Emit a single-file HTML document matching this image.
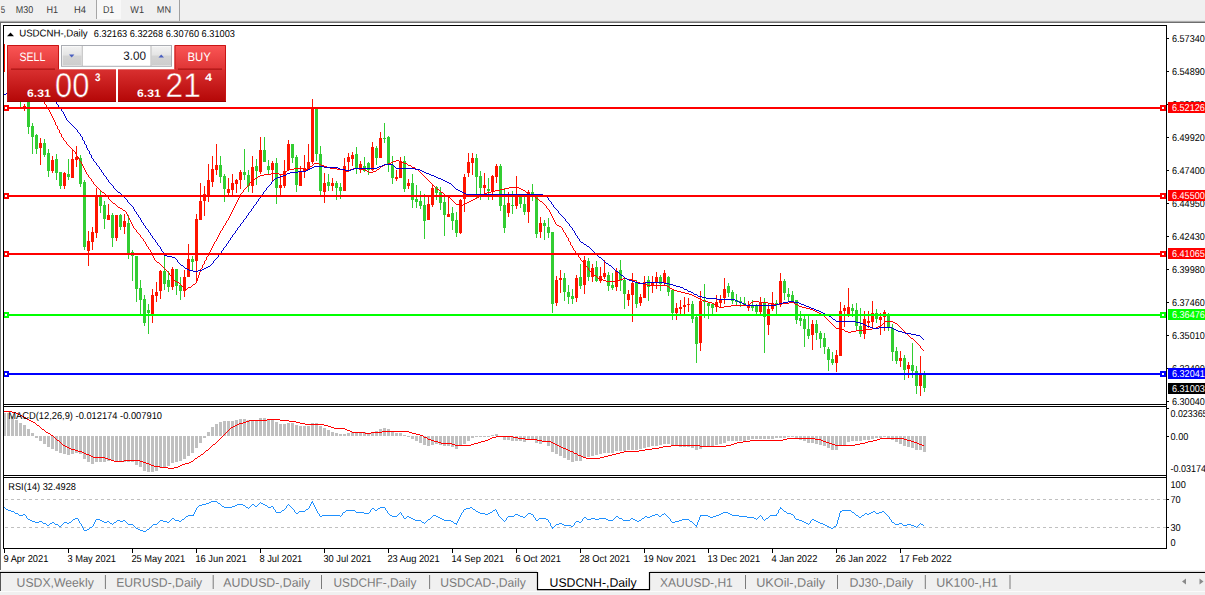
<!DOCTYPE html><html><head><meta charset="utf-8"><title>USDCNH-,Daily</title>
<style>html,body{margin:0;padding:0;background:#fff;}body{width:1205px;height:595px;overflow:hidden;}svg{display:block;font-family:"Liberation Sans", sans-serif;}</style></head><body>
<svg width="1205" height="595" viewBox="0 0 1205 595">
<defs>
<linearGradient id="gTop" x1="0" y1="0" x2="0" y2="1"><stop offset="0" stop-color="#fb5656"/><stop offset="1" stop-color="#de3434"/></linearGradient>
<linearGradient id="gBot" gradientUnits="userSpaceOnUse" x1="0" y1="69.3" x2="0" y2="101.8"><stop offset="0" stop-color="#d93030"/><stop offset="1" stop-color="#b40606"/></linearGradient>
<linearGradient id="gBtn" x1="0" y1="0" x2="0" y2="1"><stop offset="0" stop-color="#f2f2f2"/><stop offset="0.45" stop-color="#e4e4e4"/><stop offset="0.5" stop-color="#d4d4d4"/><stop offset="1" stop-color="#cdcdcd"/></linearGradient>
<clipPath id="cpMain"><rect x="4" y="26" width="1162" height="378"/></clipPath>
</defs>
<rect x="0" y="0" width="1205" height="595" fill="#fff"/>
<rect x="0" y="0" width="1205" height="21" fill="#f0f0f0"/>
<rect x="0" y="20" width="1205" height="1" fill="#e6e6e6"/>
<rect x="0" y="21" width="1205" height="1" fill="#adadad"/>
<rect x="0" y="22" width="1205" height="1" fill="#6e6e6e"/>
<rect x="97" y="0" width="24" height="19" fill="#f8f8f8"/>
<rect x="96" y="0" width="1" height="19" fill="#a6a6a6"/>
<rect x="179" y="0" width="1" height="21" fill="#a0a0a0"/>
<text x="0.8" y="12.9" transform="rotate(0.03 0.8 12.9)" font-size="10" fill="#3c3c3c" textLength="4.4" lengthAdjust="spacingAndGlyphs">5</text>
<text x="15.8" y="12.9" transform="rotate(0.03 15.8 12.9)" font-size="10" fill="#3c3c3c" textLength="17.4" lengthAdjust="spacingAndGlyphs">M30</text>
<text x="46.5" y="12.9" transform="rotate(0.03 46.5 12.9)" font-size="10" fill="#3c3c3c" textLength="11.6" lengthAdjust="spacingAndGlyphs">H1</text>
<text x="73.9" y="12.9" transform="rotate(0.03 73.9 12.9)" font-size="10" fill="#3c3c3c" textLength="12" lengthAdjust="spacingAndGlyphs">H4</text>
<text x="102.9" y="12.9" transform="rotate(0.03 102.9 12.9)" font-size="10" fill="#3c3c3c" textLength="11.4" lengthAdjust="spacingAndGlyphs">D1</text>
<text x="130.3" y="12.9" transform="rotate(0.03 130.3 12.9)" font-size="10" fill="#3c3c3c" textLength="13.7" lengthAdjust="spacingAndGlyphs">W1</text>
<text x="156.8" y="12.7" transform="rotate(0.03 156.8 12.7)" font-size="9.5" fill="#3c3c3c" textLength="14.2" lengthAdjust="spacingAndGlyphs">MN</text>
<rect x="0" y="23" width="1" height="547" fill="#6e6e6e"/>
<g shape-rendering="crispEdges">
<g clip-path="url(#cpMain)">
<rect x="20" y="96" width="1" height="13" fill="#32cd32"/>
<rect x="19" y="97" width="3" height="4" fill="#32cd32"/>
<rect x="24" y="104" width="1" height="7" fill="#ff1400"/>
<rect x="23" y="106" width="3" height="1.5" fill="#ff1400"/>
<rect x="28" y="100" width="1" height="33.7" fill="#32cd32"/>
<rect x="27" y="100" width="3" height="26.6" fill="#32cd32"/>
<rect x="32" y="123.2" width="1" height="30.6" fill="#32cd32"/>
<rect x="31" y="126" width="3" height="10.7" fill="#32cd32"/>
<rect x="36" y="134" width="1" height="20" fill="#32cd32"/>
<rect x="35" y="134.8" width="3" height="14.2" fill="#32cd32"/>
<rect x="40" y="137.9" width="1" height="26.8" fill="#ff1400"/>
<rect x="39" y="143.2" width="3" height="5.2" fill="#ff1400"/>
<rect x="44" y="139" width="1" height="17.8" fill="#32cd32"/>
<rect x="43" y="143.2" width="3" height="11.5" fill="#32cd32"/>
<rect x="48" y="149.1" width="1" height="27.7" fill="#32cd32"/>
<rect x="47" y="153" width="3" height="18" fill="#32cd32"/>
<rect x="52" y="156.3" width="1" height="16.3" fill="#ff1400"/>
<rect x="51" y="160.2" width="3" height="10.4" fill="#ff1400"/>
<rect x="56" y="154.2" width="1" height="25.3" fill="#32cd32"/>
<rect x="55" y="158.9" width="3" height="13.7" fill="#32cd32"/>
<rect x="60" y="172.3" width="1" height="16.5" fill="#32cd32"/>
<rect x="59" y="172.3" width="3" height="13.5" fill="#32cd32"/>
<rect x="64" y="172" width="1" height="16.8" fill="#ff1400"/>
<rect x="63" y="172.6" width="3" height="13.2" fill="#ff1400"/>
<rect x="68" y="158.9" width="1" height="21" fill="#32cd32"/>
<rect x="67" y="173.7" width="3" height="3.3" fill="#32cd32"/>
<rect x="72" y="149.1" width="1" height="28.6" fill="#ff1400"/>
<rect x="71" y="158.9" width="3" height="18.8" fill="#ff1400"/>
<rect x="76" y="146.3" width="1" height="20.7" fill="#ff1400"/>
<rect x="75" y="157.2" width="3" height="2.5" fill="#ff1400"/>
<rect x="80" y="155" width="1" height="32" fill="#32cd32"/>
<rect x="79" y="158" width="3" height="26" fill="#32cd32"/>
<rect x="84" y="179.9" width="1" height="69.8" fill="#32cd32"/>
<rect x="83" y="182.4" width="3" height="64.4" fill="#32cd32"/>
<rect x="88" y="231.2" width="1" height="34.5" fill="#ff1400"/>
<rect x="87" y="241.3" width="3" height="9.2" fill="#ff1400"/>
<rect x="92" y="227" width="1" height="22.7" fill="#ff1400"/>
<rect x="91" y="232.4" width="3" height="9.7" fill="#ff1400"/>
<rect x="96" y="188" width="1" height="50" fill="#ff1400"/>
<rect x="95" y="196.4" width="3" height="36.5" fill="#ff1400"/>
<rect x="100" y="190.9" width="1" height="21.8" fill="#32cd32"/>
<rect x="99" y="195.4" width="3" height="10.1" fill="#32cd32"/>
<rect x="104" y="201.3" width="1" height="27.4" fill="#32cd32"/>
<rect x="103" y="204.8" width="3" height="13.8" fill="#32cd32"/>
<rect x="108" y="204.3" width="1" height="16" fill="#ff1400"/>
<rect x="107" y="215.3" width="3" height="4.2" fill="#ff1400"/>
<rect x="112" y="213.2" width="1" height="33.6" fill="#32cd32"/>
<rect x="111" y="214.9" width="3" height="23" fill="#32cd32"/>
<rect x="116" y="215.3" width="1" height="25.7" fill="#ff1400"/>
<rect x="115" y="215.3" width="3" height="22.6" fill="#ff1400"/>
<rect x="120" y="213.9" width="1" height="16.1" fill="#32cd32"/>
<rect x="119" y="214.9" width="3" height="12.1" fill="#32cd32"/>
<rect x="124" y="213.9" width="1" height="19.8" fill="#ff1400"/>
<rect x="123" y="221.1" width="3" height="5.9" fill="#ff1400"/>
<rect x="128" y="214.9" width="1" height="44.1" fill="#32cd32"/>
<rect x="127" y="222.8" width="3" height="30.2" fill="#32cd32"/>
<rect x="132" y="249.7" width="1" height="31.3" fill="#32cd32"/>
<rect x="131" y="252.2" width="3" height="4.2" fill="#32cd32"/>
<rect x="136" y="255.9" width="1" height="46.1" fill="#32cd32"/>
<rect x="135" y="255.9" width="3" height="32.8" fill="#32cd32"/>
<rect x="140" y="280.3" width="1" height="33.6" fill="#32cd32"/>
<rect x="139" y="288.3" width="3" height="11.7" fill="#32cd32"/>
<rect x="144" y="295" width="1" height="31" fill="#32cd32"/>
<rect x="143" y="299" width="3" height="23.6" fill="#32cd32"/>
<rect x="148" y="304" width="1" height="29.7" fill="#32cd32"/>
<rect x="147" y="310" width="3" height="3" fill="#32cd32"/>
<rect x="152" y="289" width="1" height="34" fill="#ff1400"/>
<rect x="151" y="295" width="3" height="18.9" fill="#ff1400"/>
<rect x="156" y="282" width="1" height="19.8" fill="#ff1400"/>
<rect x="155" y="292" width="3" height="3.7" fill="#ff1400"/>
<rect x="160" y="270" width="1" height="28.7" fill="#ff1400"/>
<rect x="159" y="271" width="3" height="20" fill="#ff1400"/>
<rect x="164" y="256.4" width="1" height="33.6" fill="#32cd32"/>
<rect x="163" y="271" width="3" height="12.6" fill="#32cd32"/>
<rect x="168" y="271" width="1" height="21" fill="#32cd32"/>
<rect x="167" y="280.3" width="3" height="6.7" fill="#32cd32"/>
<rect x="172" y="266.8" width="1" height="23.2" fill="#ff1400"/>
<rect x="171" y="268.8" width="3" height="18.2" fill="#ff1400"/>
<rect x="176" y="268.8" width="1" height="26.2" fill="#32cd32"/>
<rect x="175" y="268.8" width="3" height="16.8" fill="#32cd32"/>
<rect x="180" y="276.9" width="1" height="23.1" fill="#32cd32"/>
<rect x="179" y="285.3" width="3" height="5.9" fill="#32cd32"/>
<rect x="184" y="270" width="1" height="27" fill="#ff1400"/>
<rect x="183" y="277.2" width="3" height="14" fill="#ff1400"/>
<rect x="188" y="243.8" width="1" height="32.8" fill="#ff1400"/>
<rect x="187" y="259.2" width="3" height="17.4" fill="#ff1400"/>
<rect x="192" y="256.4" width="1" height="13.4" fill="#32cd32"/>
<rect x="191" y="258.7" width="3" height="3.3" fill="#32cd32"/>
<rect x="196" y="214" width="1" height="69" fill="#ff1400"/>
<rect x="195" y="218.6" width="3" height="42.8" fill="#ff1400"/>
<rect x="200" y="183" width="1" height="37" fill="#ff1400"/>
<rect x="199" y="200.6" width="3" height="19.4" fill="#ff1400"/>
<rect x="204" y="186.3" width="1" height="29.4" fill="#ff1400"/>
<rect x="203" y="193.9" width="3" height="7.5" fill="#ff1400"/>
<rect x="208" y="163.6" width="1" height="38.4" fill="#ff1400"/>
<rect x="207" y="180" width="3" height="17.2" fill="#ff1400"/>
<rect x="212" y="156" width="1" height="30.8" fill="#ff1400"/>
<rect x="211" y="169" width="3" height="13" fill="#ff1400"/>
<rect x="216" y="144.3" width="1" height="30.7" fill="#ff1400"/>
<rect x="215" y="165.3" width="3" height="4.2" fill="#ff1400"/>
<rect x="220" y="156" width="1" height="27" fill="#32cd32"/>
<rect x="219" y="165.3" width="3" height="11.7" fill="#32cd32"/>
<rect x="224" y="174" width="1" height="28" fill="#32cd32"/>
<rect x="223" y="175.7" width="3" height="13.1" fill="#32cd32"/>
<rect x="228" y="177.9" width="1" height="16.8" fill="#ff1400"/>
<rect x="227" y="188.8" width="3" height="3.7" fill="#ff1400"/>
<rect x="232" y="174" width="1" height="21.2" fill="#ff1400"/>
<rect x="231" y="183" width="3" height="6.7" fill="#ff1400"/>
<rect x="236" y="179" width="1" height="13.5" fill="#ff1400"/>
<rect x="235" y="180" width="3" height="3.8" fill="#ff1400"/>
<rect x="240" y="170" width="1" height="18.8" fill="#ff1400"/>
<rect x="239" y="172" width="3" height="8" fill="#ff1400"/>
<rect x="244" y="148.8" width="1" height="31.2" fill="#32cd32"/>
<rect x="243" y="172.4" width="3" height="2.6" fill="#32cd32"/>
<rect x="248" y="170" width="1" height="21.8" fill="#32cd32"/>
<rect x="247" y="175" width="3" height="11.3" fill="#32cd32"/>
<rect x="252" y="156" width="1" height="36.5" fill="#ff1400"/>
<rect x="251" y="167" width="3" height="18.5" fill="#ff1400"/>
<rect x="256" y="158.9" width="1" height="25.7" fill="#32cd32"/>
<rect x="255" y="166" width="3" height="4.7" fill="#32cd32"/>
<rect x="260" y="137" width="1" height="37" fill="#ff1400"/>
<rect x="259" y="150" width="3" height="22" fill="#ff1400"/>
<rect x="264" y="137" width="1" height="24.6" fill="#32cd32"/>
<rect x="263" y="150" width="3" height="11.6" fill="#32cd32"/>
<rect x="268" y="160" width="1" height="14" fill="#32cd32"/>
<rect x="267" y="166" width="3" height="4" fill="#32cd32"/>
<rect x="272" y="161" width="1" height="21" fill="#ff1400"/>
<rect x="271" y="162.8" width="3" height="7.2" fill="#ff1400"/>
<rect x="276" y="158" width="1" height="46" fill="#32cd32"/>
<rect x="275" y="162.8" width="3" height="25.2" fill="#32cd32"/>
<rect x="280" y="174" width="1" height="21.5" fill="#ff1400"/>
<rect x="279" y="185" width="3" height="3" fill="#ff1400"/>
<rect x="284" y="160" width="1" height="28" fill="#ff1400"/>
<rect x="283" y="171" width="3" height="14.5" fill="#ff1400"/>
<rect x="288" y="140" width="1" height="31" fill="#ff1400"/>
<rect x="287" y="143.8" width="3" height="26.2" fill="#ff1400"/>
<rect x="292" y="143.8" width="1" height="19" fill="#32cd32"/>
<rect x="291" y="143.8" width="3" height="13.9" fill="#32cd32"/>
<rect x="296" y="155" width="1" height="36.8" fill="#32cd32"/>
<rect x="295" y="157" width="3" height="28" fill="#32cd32"/>
<rect x="300" y="166" width="1" height="20.3" fill="#ff1400"/>
<rect x="299" y="171" width="3" height="14.5" fill="#ff1400"/>
<rect x="304" y="155" width="1" height="23" fill="#ff1400"/>
<rect x="303" y="167.8" width="3" height="4.2" fill="#ff1400"/>
<rect x="308" y="144.3" width="1" height="25.7" fill="#ff1400"/>
<rect x="307" y="162" width="3" height="7.5" fill="#ff1400"/>
<rect x="312" y="99" width="1" height="64.6" fill="#ff1400"/>
<rect x="311" y="108.7" width="3" height="53.3" fill="#ff1400"/>
<rect x="316" y="108" width="1" height="53" fill="#32cd32"/>
<rect x="315" y="109.2" width="3" height="44.3" fill="#32cd32"/>
<rect x="320" y="146" width="1" height="50" fill="#32cd32"/>
<rect x="319" y="153.5" width="3" height="37.8" fill="#32cd32"/>
<rect x="324" y="172.9" width="1" height="30.1" fill="#ff1400"/>
<rect x="323" y="183" width="3" height="9" fill="#ff1400"/>
<rect x="328" y="174" width="1" height="17.3" fill="#32cd32"/>
<rect x="327" y="182" width="3" height="3.8" fill="#32cd32"/>
<rect x="332" y="177.9" width="1" height="12.9" fill="#ff1400"/>
<rect x="331" y="183" width="3" height="2.8" fill="#ff1400"/>
<rect x="336" y="181.3" width="1" height="18.4" fill="#32cd32"/>
<rect x="335" y="183" width="3" height="5" fill="#32cd32"/>
<rect x="340" y="183.4" width="1" height="15.6" fill="#32cd32"/>
<rect x="339" y="187" width="3" height="3.8" fill="#32cd32"/>
<rect x="344" y="158" width="1" height="32.8" fill="#ff1400"/>
<rect x="343" y="166" width="3" height="24.8" fill="#ff1400"/>
<rect x="348" y="152.7" width="1" height="19.3" fill="#ff1400"/>
<rect x="347" y="157.2" width="3" height="4.4" fill="#ff1400"/>
<rect x="352" y="151.8" width="1" height="13.8" fill="#ff1400"/>
<rect x="351" y="155.2" width="3" height="4.2" fill="#ff1400"/>
<rect x="356" y="146.8" width="1" height="27.2" fill="#32cd32"/>
<rect x="355" y="154.4" width="3" height="14.3" fill="#32cd32"/>
<rect x="360" y="161" width="1" height="11.6" fill="#ff1400"/>
<rect x="359" y="164" width="3" height="6" fill="#ff1400"/>
<rect x="364" y="157" width="1" height="15" fill="#32cd32"/>
<rect x="363" y="166.2" width="3" height="4.4" fill="#32cd32"/>
<rect x="368" y="162.2" width="1" height="12.8" fill="#32cd32"/>
<rect x="367" y="163.2" width="3" height="7.2" fill="#32cd32"/>
<rect x="372" y="141.9" width="1" height="29.1" fill="#ff1400"/>
<rect x="371" y="147" width="3" height="23" fill="#ff1400"/>
<rect x="376" y="146" width="1" height="18.8" fill="#32cd32"/>
<rect x="375" y="147.8" width="3" height="10.2" fill="#32cd32"/>
<rect x="380" y="131.8" width="1" height="26.1" fill="#ff1400"/>
<rect x="379" y="138.2" width="3" height="19.7" fill="#ff1400"/>
<rect x="384" y="122.8" width="1" height="19.9" fill="#32cd32"/>
<rect x="383" y="137.9" width="3" height="1.3" fill="#32cd32"/>
<rect x="388" y="136" width="1" height="36" fill="#32cd32"/>
<rect x="387" y="136.8" width="3" height="28.6" fill="#32cd32"/>
<rect x="392" y="156" width="1" height="28" fill="#32cd32"/>
<rect x="391" y="164.6" width="3" height="13.4" fill="#32cd32"/>
<rect x="396" y="169.6" width="1" height="11.8" fill="#ff1400"/>
<rect x="395" y="176.8" width="3" height="1.7" fill="#ff1400"/>
<rect x="400" y="157" width="1" height="20.5" fill="#ff1400"/>
<rect x="399" y="160.7" width="3" height="16.8" fill="#ff1400"/>
<rect x="404" y="156" width="1" height="36" fill="#32cd32"/>
<rect x="403" y="161.2" width="3" height="27.8" fill="#32cd32"/>
<rect x="408" y="179" width="1" height="10" fill="#ff1400"/>
<rect x="407" y="183" width="3" height="3.4" fill="#ff1400"/>
<rect x="412" y="174" width="1" height="33.7" fill="#32cd32"/>
<rect x="411" y="183" width="3" height="16.8" fill="#32cd32"/>
<rect x="416" y="185" width="1" height="23.2" fill="#32cd32"/>
<rect x="415" y="199" width="3" height="2.7" fill="#32cd32"/>
<rect x="420" y="191" width="1" height="17.6" fill="#32cd32"/>
<rect x="419" y="200.8" width="3" height="4.8" fill="#32cd32"/>
<rect x="424" y="194" width="1" height="44.7" fill="#32cd32"/>
<rect x="423" y="204.8" width="3" height="15.8" fill="#32cd32"/>
<rect x="428" y="197" width="1" height="23" fill="#ff1400"/>
<rect x="427" y="204.3" width="3" height="15.7" fill="#ff1400"/>
<rect x="432" y="184" width="1" height="22.5" fill="#ff1400"/>
<rect x="431" y="187.6" width="3" height="17.2" fill="#ff1400"/>
<rect x="436" y="186" width="1" height="14.4" fill="#32cd32"/>
<rect x="435" y="187.3" width="3" height="5.3" fill="#32cd32"/>
<rect x="440" y="187.3" width="1" height="22.4" fill="#32cd32"/>
<rect x="439" y="191.5" width="3" height="11" fill="#32cd32"/>
<rect x="444" y="197" width="1" height="38.7" fill="#32cd32"/>
<rect x="443" y="201.7" width="3" height="13.2" fill="#32cd32"/>
<rect x="448" y="197.4" width="1" height="19.2" fill="#ff1400"/>
<rect x="447" y="214.4" width="3" height="2.2" fill="#ff1400"/>
<rect x="452" y="206.9" width="1" height="23.4" fill="#32cd32"/>
<rect x="451" y="213.2" width="3" height="7.4" fill="#32cd32"/>
<rect x="456" y="211.8" width="1" height="25.6" fill="#32cd32"/>
<rect x="455" y="220.3" width="3" height="12.6" fill="#32cd32"/>
<rect x="460" y="199" width="1" height="34.7" fill="#ff1400"/>
<rect x="459" y="199.8" width="3" height="33.1" fill="#ff1400"/>
<rect x="464" y="174" width="1" height="37.5" fill="#ff1400"/>
<rect x="463" y="177" width="3" height="22.2" fill="#ff1400"/>
<rect x="468" y="153.3" width="1" height="23.5" fill="#ff1400"/>
<rect x="467" y="162.4" width="3" height="10.6" fill="#ff1400"/>
<rect x="472" y="153.3" width="1" height="21.4" fill="#ff1400"/>
<rect x="471" y="157.9" width="3" height="5" fill="#ff1400"/>
<rect x="476" y="154" width="1" height="44.9" fill="#32cd32"/>
<rect x="475" y="157.9" width="3" height="18.9" fill="#32cd32"/>
<rect x="480" y="171.3" width="1" height="28.9" fill="#32cd32"/>
<rect x="479" y="175.8" width="3" height="11.8" fill="#32cd32"/>
<rect x="484" y="173" width="1" height="23.5" fill="#ff1400"/>
<rect x="483" y="185.3" width="3" height="2.7" fill="#ff1400"/>
<rect x="488" y="178" width="1" height="21.5" fill="#32cd32"/>
<rect x="487" y="189" width="3" height="1.6" fill="#32cd32"/>
<rect x="492" y="174.7" width="1" height="24.8" fill="#ff1400"/>
<rect x="491" y="175.8" width="3" height="15.7" fill="#ff1400"/>
<rect x="496" y="163.7" width="1" height="19.3" fill="#ff1400"/>
<rect x="495" y="166.3" width="3" height="10.9" fill="#ff1400"/>
<rect x="500" y="163.7" width="1" height="47.3" fill="#32cd32"/>
<rect x="499" y="166.3" width="3" height="39.3" fill="#32cd32"/>
<rect x="504" y="188" width="1" height="44.9" fill="#32cd32"/>
<rect x="503" y="204.9" width="3" height="23.4" fill="#32cd32"/>
<rect x="508" y="192.4" width="1" height="24.5" fill="#ff1400"/>
<rect x="507" y="202.7" width="3" height="10.6" fill="#ff1400"/>
<rect x="512" y="191" width="1" height="22.7" fill="#32cd32"/>
<rect x="511" y="204.9" width="3" height="1.4" fill="#32cd32"/>
<rect x="516" y="175.8" width="1" height="33" fill="#ff1400"/>
<rect x="515" y="195.3" width="3" height="10.3" fill="#ff1400"/>
<rect x="520" y="194" width="1" height="13.5" fill="#32cd32"/>
<rect x="519" y="196.6" width="3" height="7.3" fill="#32cd32"/>
<rect x="524" y="196.6" width="1" height="18.4" fill="#32cd32"/>
<rect x="523" y="203.5" width="3" height="8.6" fill="#32cd32"/>
<rect x="528" y="190.3" width="1" height="32.5" fill="#ff1400"/>
<rect x="527" y="192.2" width="3" height="19.5" fill="#ff1400"/>
<rect x="532" y="183.9" width="1" height="17.5" fill="#32cd32"/>
<rect x="531" y="192" width="3" height="5.3" fill="#32cd32"/>
<rect x="536" y="195.7" width="1" height="42.2" fill="#32cd32"/>
<rect x="535" y="196.6" width="3" height="37.4" fill="#32cd32"/>
<rect x="540" y="216.9" width="1" height="21" fill="#ff1400"/>
<rect x="539" y="222.8" width="3" height="9.2" fill="#ff1400"/>
<rect x="544" y="220" width="1" height="20.4" fill="#32cd32"/>
<rect x="543" y="223.3" width="3" height="2.3" fill="#32cd32"/>
<rect x="548" y="218.2" width="1" height="19.7" fill="#32cd32"/>
<rect x="547" y="227.3" width="3" height="5.6" fill="#32cd32"/>
<rect x="552" y="232" width="1" height="80.6" fill="#32cd32"/>
<rect x="551" y="232" width="3" height="71.5" fill="#32cd32"/>
<rect x="556" y="276" width="1" height="29.8" fill="#ff1400"/>
<rect x="555" y="280.3" width="3" height="22.7" fill="#ff1400"/>
<rect x="560" y="270.2" width="1" height="22.7" fill="#ff1400"/>
<rect x="559" y="278" width="3" height="2" fill="#ff1400"/>
<rect x="564" y="273.2" width="1" height="27.3" fill="#32cd32"/>
<rect x="563" y="278.3" width="3" height="13.7" fill="#32cd32"/>
<rect x="568" y="285.2" width="1" height="18.6" fill="#32cd32"/>
<rect x="567" y="292" width="3" height="4.8" fill="#32cd32"/>
<rect x="572" y="289" width="1" height="14.8" fill="#32cd32"/>
<rect x="571" y="296.3" width="3" height="2.5" fill="#32cd32"/>
<rect x="576" y="275.3" width="1" height="26.5" fill="#ff1400"/>
<rect x="575" y="277.8" width="3" height="20.2" fill="#ff1400"/>
<rect x="580" y="264.3" width="1" height="24.7" fill="#32cd32"/>
<rect x="579" y="277" width="3" height="8.7" fill="#32cd32"/>
<rect x="584" y="256.4" width="1" height="37.3" fill="#ff1400"/>
<rect x="583" y="259.8" width="3" height="24.7" fill="#ff1400"/>
<rect x="588" y="258" width="1" height="22.6" fill="#32cd32"/>
<rect x="587" y="261" width="3" height="15.6" fill="#32cd32"/>
<rect x="592" y="264.3" width="1" height="17.3" fill="#ff1400"/>
<rect x="591" y="268.2" width="3" height="8.8" fill="#ff1400"/>
<rect x="596" y="261" width="1" height="21" fill="#32cd32"/>
<rect x="595" y="266.8" width="3" height="13.8" fill="#32cd32"/>
<rect x="600" y="266.8" width="1" height="16" fill="#ff1400"/>
<rect x="599" y="276" width="3" height="4.6" fill="#ff1400"/>
<rect x="604" y="260" width="1" height="18.6" fill="#ff1400"/>
<rect x="603" y="273.2" width="3" height="3.8" fill="#ff1400"/>
<rect x="608" y="271.6" width="1" height="19.1" fill="#32cd32"/>
<rect x="607" y="275.3" width="3" height="10.7" fill="#32cd32"/>
<rect x="612" y="273.2" width="1" height="16.8" fill="#32cd32"/>
<rect x="611" y="285" width="3" height="2.9" fill="#32cd32"/>
<rect x="616" y="267.7" width="1" height="23" fill="#ff1400"/>
<rect x="615" y="271" width="3" height="15.7" fill="#ff1400"/>
<rect x="620" y="260" width="1" height="31.2" fill="#32cd32"/>
<rect x="619" y="270.2" width="3" height="10.4" fill="#32cd32"/>
<rect x="624" y="277.8" width="1" height="31.1" fill="#32cd32"/>
<rect x="623" y="279.5" width="3" height="14.5" fill="#32cd32"/>
<rect x="628" y="289.5" width="1" height="16.3" fill="#ff1400"/>
<rect x="627" y="294" width="3" height="6" fill="#ff1400"/>
<rect x="632" y="273.2" width="1" height="48.8" fill="#ff1400"/>
<rect x="631" y="282.8" width="3" height="11.8" fill="#ff1400"/>
<rect x="636" y="279.5" width="1" height="28" fill="#32cd32"/>
<rect x="635" y="282.3" width="3" height="21.2" fill="#32cd32"/>
<rect x="640" y="293.7" width="1" height="12.1" fill="#ff1400"/>
<rect x="639" y="297.4" width="3" height="5.6" fill="#ff1400"/>
<rect x="644" y="276" width="1" height="22" fill="#ff1400"/>
<rect x="643" y="282.3" width="3" height="15.7" fill="#ff1400"/>
<rect x="648" y="276" width="1" height="24.8" fill="#32cd32"/>
<rect x="647" y="280.3" width="3" height="6.4" fill="#32cd32"/>
<rect x="652" y="276" width="1" height="16.9" fill="#ff1400"/>
<rect x="651" y="282.3" width="3" height="3" fill="#ff1400"/>
<rect x="656" y="271.9" width="1" height="17.1" fill="#ff1400"/>
<rect x="655" y="277" width="3" height="5.8" fill="#ff1400"/>
<rect x="660" y="275.3" width="1" height="15.4" fill="#32cd32"/>
<rect x="659" y="276.6" width="3" height="7.1" fill="#32cd32"/>
<rect x="664" y="270.2" width="1" height="15.1" fill="#ff1400"/>
<rect x="663" y="273.2" width="3" height="10.1" fill="#ff1400"/>
<rect x="668" y="276" width="1" height="19.8" fill="#32cd32"/>
<rect x="667" y="277" width="3" height="15" fill="#32cd32"/>
<rect x="672" y="289.5" width="1" height="30.3" fill="#32cd32"/>
<rect x="671" y="290.4" width="3" height="22.6" fill="#32cd32"/>
<rect x="676" y="303" width="1" height="16.8" fill="#ff1400"/>
<rect x="675" y="308" width="3" height="5" fill="#ff1400"/>
<rect x="680" y="299.6" width="1" height="14.3" fill="#ff1400"/>
<rect x="679" y="306.8" width="3" height="2.1" fill="#ff1400"/>
<rect x="684" y="297" width="1" height="17.7" fill="#ff1400"/>
<rect x="683" y="304.7" width="3" height="2.1" fill="#ff1400"/>
<rect x="688" y="298" width="1" height="14.2" fill="#ff1400"/>
<rect x="687" y="303.8" width="3" height="1.1" fill="#ff1400"/>
<rect x="692" y="301" width="1" height="22" fill="#32cd32"/>
<rect x="691" y="303.7" width="3" height="15.1" fill="#32cd32"/>
<rect x="696" y="316" width="1" height="46.8" fill="#32cd32"/>
<rect x="695" y="317" width="3" height="26.7" fill="#32cd32"/>
<rect x="700" y="291" width="1" height="59.7" fill="#ff1400"/>
<rect x="699" y="301" width="3" height="41.6" fill="#ff1400"/>
<rect x="704" y="284.3" width="1" height="33.7" fill="#32cd32"/>
<rect x="703" y="300" width="3" height="2" fill="#32cd32"/>
<rect x="708" y="301.6" width="1" height="17.2" fill="#32cd32"/>
<rect x="707" y="303.3" width="3" height="2.7" fill="#32cd32"/>
<rect x="712" y="302.8" width="1" height="12.2" fill="#32cd32"/>
<rect x="711" y="303.7" width="3" height="4.2" fill="#32cd32"/>
<rect x="716" y="295.3" width="1" height="16.4" fill="#ff1400"/>
<rect x="715" y="302.3" width="3" height="5.1" fill="#ff1400"/>
<rect x="720" y="295.3" width="1" height="13.1" fill="#ff1400"/>
<rect x="719" y="299.5" width="3" height="3.3" fill="#ff1400"/>
<rect x="724" y="278" width="1" height="25.7" fill="#ff1400"/>
<rect x="723" y="288.9" width="3" height="8.9" fill="#ff1400"/>
<rect x="728" y="283" width="1" height="13.6" fill="#32cd32"/>
<rect x="727" y="286" width="3" height="6.7" fill="#32cd32"/>
<rect x="732" y="290.2" width="1" height="13.8" fill="#32cd32"/>
<rect x="731" y="291.9" width="3" height="9.1" fill="#32cd32"/>
<rect x="736" y="293.9" width="1" height="11.1" fill="#32cd32"/>
<rect x="735" y="300" width="3" height="2.3" fill="#32cd32"/>
<rect x="740" y="297" width="1" height="9.7" fill="#32cd32"/>
<rect x="739" y="301" width="3" height="1.8" fill="#32cd32"/>
<rect x="744" y="297" width="1" height="8.3" fill="#32cd32"/>
<rect x="743" y="302.8" width="3" height="1.7" fill="#32cd32"/>
<rect x="748" y="301" width="1" height="9.7" fill="#ff1400"/>
<rect x="747" y="304.5" width="3" height="3.4" fill="#ff1400"/>
<rect x="752" y="299.5" width="1" height="11.2" fill="#32cd32"/>
<rect x="751" y="305" width="3" height="2.9" fill="#32cd32"/>
<rect x="756" y="304" width="1" height="11" fill="#32cd32"/>
<rect x="755" y="305" width="3" height="6.7" fill="#32cd32"/>
<rect x="760" y="297.3" width="1" height="17.3" fill="#ff1400"/>
<rect x="759" y="302" width="3" height="10" fill="#ff1400"/>
<rect x="764" y="297.8" width="1" height="54.9" fill="#32cd32"/>
<rect x="763" y="302.3" width="3" height="15.1" fill="#32cd32"/>
<rect x="768" y="304" width="1" height="30.7" fill="#ff1400"/>
<rect x="767" y="309" width="3" height="15.7" fill="#ff1400"/>
<rect x="772" y="292.2" width="1" height="18.5" fill="#ff1400"/>
<rect x="771" y="303.7" width="3" height="5.3" fill="#ff1400"/>
<rect x="776" y="300.3" width="1" height="14.7" fill="#32cd32"/>
<rect x="775" y="303.3" width="3" height="2" fill="#32cd32"/>
<rect x="780" y="273" width="1" height="34.4" fill="#ff1400"/>
<rect x="779" y="281" width="3" height="23.5" fill="#ff1400"/>
<rect x="784" y="279.3" width="1" height="20.2" fill="#32cd32"/>
<rect x="783" y="281" width="3" height="12.2" fill="#32cd32"/>
<rect x="788" y="288.2" width="1" height="12.8" fill="#32cd32"/>
<rect x="787" y="293.9" width="3" height="3" fill="#32cd32"/>
<rect x="792" y="291" width="1" height="11" fill="#32cd32"/>
<rect x="791" y="295.3" width="3" height="5.7" fill="#32cd32"/>
<rect x="796" y="300" width="1" height="23.8" fill="#32cd32"/>
<rect x="795" y="300.3" width="3" height="19.3" fill="#32cd32"/>
<rect x="800" y="311.2" width="1" height="15.1" fill="#32cd32"/>
<rect x="799" y="318" width="3" height="2.5" fill="#32cd32"/>
<rect x="804" y="315.4" width="1" height="31.6" fill="#32cd32"/>
<rect x="803" y="318.8" width="3" height="9.7" fill="#32cd32"/>
<rect x="808" y="316.3" width="1" height="22.7" fill="#32cd32"/>
<rect x="807" y="328.9" width="3" height="6.7" fill="#32cd32"/>
<rect x="812" y="320" width="1" height="29.9" fill="#ff1400"/>
<rect x="811" y="323.8" width="3" height="10.9" fill="#ff1400"/>
<rect x="816" y="320" width="1" height="19.8" fill="#32cd32"/>
<rect x="815" y="323.5" width="3" height="9.5" fill="#32cd32"/>
<rect x="820" y="331.4" width="1" height="16.3" fill="#32cd32"/>
<rect x="819" y="332.6" width="3" height="6.4" fill="#32cd32"/>
<rect x="824" y="333" width="1" height="20.7" fill="#32cd32"/>
<rect x="823" y="337.6" width="3" height="8.9" fill="#32cd32"/>
<rect x="828" y="347" width="1" height="23.9" fill="#32cd32"/>
<rect x="827" y="349" width="3" height="11" fill="#32cd32"/>
<rect x="832" y="352" width="1" height="12.7" fill="#32cd32"/>
<rect x="831" y="359" width="3" height="4" fill="#32cd32"/>
<rect x="836" y="350" width="1" height="21.9" fill="#ff1400"/>
<rect x="835" y="355.4" width="3" height="7.1" fill="#ff1400"/>
<rect x="840" y="302.3" width="1" height="53.3" fill="#ff1400"/>
<rect x="839" y="311.2" width="3" height="44.4" fill="#ff1400"/>
<rect x="844" y="305" width="1" height="21.8" fill="#ff1400"/>
<rect x="843" y="308.4" width="3" height="2.8" fill="#ff1400"/>
<rect x="848" y="288.2" width="1" height="28.6" fill="#ff1400"/>
<rect x="847" y="307.4" width="3" height="7.6" fill="#ff1400"/>
<rect x="852" y="304" width="1" height="13.4" fill="#32cd32"/>
<rect x="851" y="308.4" width="3" height="2.3" fill="#32cd32"/>
<rect x="856" y="303.3" width="1" height="26.4" fill="#32cd32"/>
<rect x="855" y="310" width="3" height="15.5" fill="#32cd32"/>
<rect x="860" y="308.4" width="1" height="28.6" fill="#32cd32"/>
<rect x="859" y="325.8" width="3" height="7.8" fill="#32cd32"/>
<rect x="864" y="311.2" width="1" height="27.4" fill="#ff1400"/>
<rect x="863" y="319" width="3" height="14.6" fill="#ff1400"/>
<rect x="868" y="311.2" width="1" height="16.8" fill="#ff1400"/>
<rect x="867" y="321.3" width="3" height="1.7" fill="#ff1400"/>
<rect x="872" y="301" width="1" height="27" fill="#ff1400"/>
<rect x="871" y="313.4" width="3" height="8.4" fill="#ff1400"/>
<rect x="876" y="309" width="1" height="14" fill="#32cd32"/>
<rect x="875" y="313.4" width="3" height="5.6" fill="#32cd32"/>
<rect x="880" y="312.9" width="1" height="21.8" fill="#ff1400"/>
<rect x="879" y="317.4" width="3" height="2.2" fill="#ff1400"/>
<rect x="884" y="310" width="1" height="21.4" fill="#ff1400"/>
<rect x="883" y="312.4" width="3" height="5" fill="#ff1400"/>
<rect x="888" y="312.9" width="1" height="17.6" fill="#32cd32"/>
<rect x="887" y="314" width="3" height="13.6" fill="#32cd32"/>
<rect x="892" y="323.8" width="1" height="37" fill="#32cd32"/>
<rect x="891" y="327.7" width="3" height="24" fill="#32cd32"/>
<rect x="896" y="347" width="1" height="16.8" fill="#32cd32"/>
<rect x="895" y="351.2" width="3" height="10.1" fill="#32cd32"/>
<rect x="900" y="351.2" width="1" height="15.6" fill="#ff1400"/>
<rect x="899" y="358" width="3" height="2.5" fill="#ff1400"/>
<rect x="904" y="355" width="1" height="24.8" fill="#32cd32"/>
<rect x="903" y="358" width="3" height="11.7" fill="#32cd32"/>
<rect x="908" y="362" width="1" height="15.6" fill="#ff1400"/>
<rect x="907" y="365.2" width="3" height="3.7" fill="#ff1400"/>
<rect x="912" y="343.3" width="1" height="34.7" fill="#32cd32"/>
<rect x="911" y="365.2" width="3" height="6.2" fill="#32cd32"/>
<rect x="916" y="365.5" width="1" height="28.2" fill="#32cd32"/>
<rect x="915" y="371.4" width="3" height="14.3" fill="#32cd32"/>
<rect x="920" y="356.3" width="1" height="39.5" fill="#ff1400"/>
<rect x="919" y="373" width="3" height="12.7" fill="#ff1400"/>
<rect x="924" y="370.9" width="1" height="20.7" fill="#32cd32"/>
<rect x="923" y="373" width="3" height="15.2" fill="#32cd32"/>
<rect x="4" y="44" width="1" height="28" fill="#ff1400"/>
</g>
</g>
<g clip-path="url(#cpMain)">
<path d="M202.5 265v3M197.5 278v3M570.5 242v3M208.5 253v3M200.5 269v3M199.5 272v3M204.5 261v3M198.5 275v3M59.5 130v3M568.5 238v3M61.5 134v3M206.5 257v3M55.5 122v3M57.5 126v3M35 85.5h1M36 86.5h1M36 87.5h1M37 88.5h1M37 89.5h1M38 90.5h1M38 91.5h1M39 92.5h1M39 93.5h1M40 94.5h1M40 95.5h1M41 96.5h1M41 97.5h1M42 98.5h1M42 99.5h1M43 100.5h1M43 101.5h1M44 102.5h1M44 103.5h1M45 104.5h1M46 105.5h1M46 106.5h1M47 107.5h1M48 108.5h1M48 109.5h1M49 110.5h1M49 111.5h1M50 112.5h1M50 113.5h1M51 114.5h1M51 115.5h1M52 116.5h1M52 117.5h1M53 118.5h1M53 119.5h1M54 120.5h1M54 121.5h1M56 125.5h1M58 129.5h1M60 133.5h1M62 137.5h1M63 138.5h1M63 139.5h1M64 140.5h1M65 141.5h1M66 142.5h1M66 143.5h1M67 144.5h1M68 145.5h1M69 146.5h1M70 147.5h1M71 148.5h1M72 149.5h1M73 150.5h1M74 151.5h1M75 152.5h1M75 153.5h1M76 154.5h1M76 155.5h1M77 156.5h1M78 157.5h1M78 158.5h1M79 159.5h1M79 160.5h1M396 160.5h3M80 161.5h1M393 161.5h3M399 161.5h2M81 162.5h1M391 162.5h2M401 162.5h3M81 163.5h1M314 163.5h5M388 163.5h3M404 163.5h3M82 164.5h1M313 164.5h1M319 164.5h2M385 164.5h3M407 164.5h1M82 165.5h1M312 165.5h1M321 165.5h3M383 165.5h2M408 165.5h3M83 166.5h1M310 166.5h2M324 166.5h3M381 166.5h2M411 166.5h1M83 167.5h1M309 167.5h1M327 167.5h3M380 167.5h1M412 167.5h3M84 168.5h1M294 168.5h9M308 168.5h1M330 168.5h7M353 168.5h7M379 168.5h1M415 168.5h1M84 169.5h1M289 169.5h5M303 169.5h5M337 169.5h6M350 169.5h3M360 169.5h5M377 169.5h2M416 169.5h2M85 170.5h1M287 170.5h2M343 170.5h2M348 170.5h2M365 170.5h2M376 170.5h1M418 170.5h1M85 171.5h1M286 171.5h1M345 171.5h3M367 171.5h2M373 171.5h3M419 171.5h1M86 172.5h1M285 172.5h1M369 172.5h4M420 172.5h1M86 173.5h1M271 173.5h8M283 173.5h2M421 173.5h1M87 174.5h1M264 174.5h7M279 174.5h4M422 174.5h1M88 175.5h1M260 175.5h4M423 175.5h1M88 176.5h1M258 176.5h2M424 176.5h1M89 177.5h1M257 177.5h1M425 177.5h1M90 178.5h1M255 178.5h2M426 178.5h1M91 179.5h1M253 179.5h2M427 179.5h1M91 180.5h1M252 180.5h1M428 180.5h1M92 181.5h1M251 181.5h1M429 181.5h1M93 182.5h1M250 182.5h1M430 182.5h1M93 183.5h1M249 183.5h1M431 183.5h1M94 184.5h1M249 184.5h1M432 184.5h1M95 185.5h1M248 185.5h1M433 185.5h1M96 186.5h1M247 186.5h1M434 186.5h1M97 187.5h1M246 187.5h1M435 187.5h1M509 187.5h10M98 188.5h1M245 188.5h1M436 188.5h1M505 188.5h4M519 188.5h2M99 189.5h1M244 189.5h1M437 189.5h2M500 189.5h5M521 189.5h2M100 190.5h1M243 190.5h1M439 190.5h1M495 190.5h5M523 190.5h2M101 191.5h1M243 191.5h1M440 191.5h1M491 191.5h4M525 191.5h1M102 192.5h2M242 192.5h1M441 192.5h2M487 192.5h4M526 192.5h3M104 193.5h1M241 193.5h1M443 193.5h1M484 193.5h3M529 193.5h1M105 194.5h1M240 194.5h1M444 194.5h1M482 194.5h2M530 194.5h2M106 195.5h1M240 195.5h1M445 195.5h2M480 195.5h2M532 195.5h1M107 196.5h1M239 196.5h1M447 196.5h1M479 196.5h1M533 196.5h2M108 197.5h1M239 197.5h1M448 197.5h2M477 197.5h2M535 197.5h1M108 198.5h1M238 198.5h1M450 198.5h1M475 198.5h2M536 198.5h2M109 199.5h1M238 199.5h1M451 199.5h1M473 199.5h2M538 199.5h1M110 200.5h1M237 200.5h1M452 200.5h1M471 200.5h2M539 200.5h1M111 201.5h1M237 201.5h1M453 201.5h1M469 201.5h2M540 201.5h2M112 202.5h1M236 202.5h1M454 202.5h1M467 202.5h2M542 202.5h1M113 203.5h2M236 203.5h1M455 203.5h1M465 203.5h2M543 203.5h1M115 204.5h1M235 204.5h1M456 204.5h4M463 204.5h2M544 204.5h1M116 205.5h1M235 205.5h1M460 205.5h3M545 205.5h1M117 206.5h1M234 206.5h1M546 206.5h1M118 207.5h2M234 207.5h1M546 207.5h1M120 208.5h2M233 208.5h1M547 208.5h1M122 209.5h1M233 209.5h1M548 209.5h1M123 210.5h2M232 210.5h1M549 210.5h1M125 211.5h1M232 211.5h1M549 211.5h1M126 212.5h1M231 212.5h1M550 212.5h1M126 213.5h1M231 213.5h1M550 213.5h1M127 214.5h1M230 214.5h1M551 214.5h1M127 215.5h1M230 215.5h1M551 215.5h1M128 216.5h1M229 216.5h1M552 216.5h1M128 217.5h1M229 217.5h1M552 217.5h1M129 218.5h1M228 218.5h1M553 218.5h1M129 219.5h1M228 219.5h1M553 219.5h1M130 220.5h1M227 220.5h1M554 220.5h1M130 221.5h1M226 221.5h1M554 221.5h1M131 222.5h1M226 222.5h1M555 222.5h1M131 223.5h1M225 223.5h1M555 223.5h1M132 224.5h1M225 224.5h1M556 224.5h1M132 225.5h1M224 225.5h1M557 225.5h2M133 226.5h1M223 226.5h1M559 226.5h2M133 227.5h1M223 227.5h1M561 227.5h1M134 228.5h1M222 228.5h1M562 228.5h1M135 229.5h1M222 229.5h1M562 229.5h1M136 230.5h1M221 230.5h1M563 230.5h1M136 231.5h1M220 231.5h1M563 231.5h1M137 232.5h1M220 232.5h1M564 232.5h1M138 233.5h1M219 233.5h1M565 233.5h1M139 234.5h1M219 234.5h1M565 234.5h1M140 235.5h1M218 235.5h1M566 235.5h1M140 236.5h1M218 236.5h1M566 236.5h1M141 237.5h1M217 237.5h1M567 237.5h1M142 238.5h1M217 238.5h1M143 239.5h1M216 239.5h1M143 240.5h1M216 240.5h1M144 241.5h1M215 241.5h1M569 241.5h1M145 242.5h1M214 242.5h1M145 243.5h1M214 243.5h1M146 244.5h1M213 244.5h1M146 245.5h1M213 245.5h1M571 245.5h1M147 246.5h1M212 246.5h1M572 246.5h1M148 247.5h1M212 247.5h1M572 247.5h1M148 248.5h1M211 248.5h1M573 248.5h1M149 249.5h1M211 249.5h1M573 249.5h1M150 250.5h1M210 250.5h1M574 250.5h1M150 251.5h1M210 251.5h1M575 251.5h1M151 252.5h1M209 252.5h1M575 252.5h1M151 253.5h1M576 253.5h1M152 254.5h1M577 254.5h1M152 255.5h1M578 255.5h1M153 256.5h1M207 256.5h1M578 256.5h1M153 257.5h1M579 257.5h1M154 258.5h1M580 258.5h1M154 259.5h1M580 259.5h1M155 260.5h1M205 260.5h1M581 260.5h1M156 261.5h1M582 261.5h1M157 262.5h2M583 262.5h1M159 263.5h1M584 263.5h1M160 264.5h1M203 264.5h1M584 264.5h1M161 265.5h1M585 265.5h1M162 266.5h1M586 266.5h1M163 267.5h1M587 267.5h1M164 268.5h1M201 268.5h1M588 268.5h1M165 269.5h1M588 269.5h1M166 270.5h1M589 270.5h1M167 271.5h1M590 271.5h1M168 272.5h1M591 272.5h1M169 273.5h1M592 273.5h1M169 274.5h1M593 274.5h1M170 275.5h1M594 275.5h2M171 276.5h1M596 276.5h1M172 277.5h1M597 277.5h1M172 278.5h1M598 278.5h2M623 278.5h4M173 279.5h1M600 279.5h3M620 279.5h3M627 279.5h5M174 280.5h1M603 280.5h3M617 280.5h3M632 280.5h4M175 281.5h2M196 281.5h1M606 281.5h11M636 281.5h1M177 282.5h2M196 282.5h1M637 282.5h3M179 283.5h1M195 283.5h1M640 283.5h3M180 284.5h1M193 284.5h2M643 284.5h4M181 285.5h1M192 285.5h1M647 285.5h20M182 286.5h1M191 286.5h1M667 286.5h2M183 287.5h1M188 287.5h3M669 287.5h1M184 288.5h1M187 288.5h1M670 288.5h2M185 289.5h2M672 289.5h2M674 290.5h3M677 291.5h4M681 292.5h4M685 293.5h4M689 294.5h3M692 295.5h2M694 296.5h2M696 297.5h2M698 298.5h2M700 299.5h2M702 300.5h3M705 301.5h3M753 301.5h6M708 302.5h4M751 302.5h2M759 302.5h9M789 302.5h5M712 303.5h2M750 303.5h1M768 303.5h6M781 303.5h8M794 303.5h1M714 304.5h2M748 304.5h2M774 304.5h7M795 304.5h3M716 305.5h1M731 305.5h17M798 305.5h1M717 306.5h2M724 306.5h7M799 306.5h3M719 307.5h5M802 307.5h4M806 308.5h4M810 309.5h3M813 310.5h2M815 311.5h2M817 312.5h2M819 313.5h2M821 314.5h2M823 315.5h1M824 316.5h1M825 317.5h1M826 318.5h1M827 319.5h1M828 320.5h1M829 321.5h1M885 321.5h8M830 322.5h1M884 322.5h1M893 322.5h2M831 323.5h1M883 323.5h1M895 323.5h2M832 324.5h1M882 324.5h1M897 324.5h1M833 325.5h1M880 325.5h2M898 325.5h1M834 326.5h1M878 326.5h2M899 326.5h1M835 327.5h1M876 327.5h2M900 327.5h1M836 328.5h4M872 328.5h4M901 328.5h1M840 329.5h4M864 329.5h8M902 329.5h1M844 330.5h1M856 330.5h8M903 330.5h1M845 331.5h3M851 331.5h5M904 331.5h1M848 332.5h3M905 332.5h1M906 333.5h1M907 334.5h1M908 335.5h1M909 336.5h1M910 337.5h1M911 338.5h2M913 339.5h1M914 340.5h1M915 341.5h1M916 342.5h1M917 343.5h1M918 344.5h1M919 345.5h1M920 346.5h1M920 347.5h1M921 348.5h1M922 349.5h1M923 350.5h1" fill="none" stroke="#ff0000" stroke-width="1" shape-rendering="crispEdges"/>
<path d="M91.5 155v3M84.5 141v3M86.5 145v3M89.5 151v3M163.5 252v3M82.5 137v3M42 88.5h7M28 89.5h14M49 89.5h1M15 90.5h13M49 90.5h1M8 91.5h7M50 91.5h1M7 92.5h1M50 92.5h1M6 93.5h1M51 93.5h1M4 94.5h2M51 94.5h1M52 95.5h1M52 96.5h1M53 97.5h1M54 98.5h1M54 99.5h1M55 100.5h1M55 101.5h1M56 102.5h1M56 103.5h1M57 104.5h1M58 105.5h1M58 106.5h1M59 107.5h1M60 108.5h1M61 109.5h1M61 110.5h1M62 111.5h1M63 112.5h1M63 113.5h1M64 114.5h1M64 115.5h1M65 116.5h1M65 117.5h1M66 118.5h1M66 119.5h1M67 120.5h1M68 121.5h1M69 122.5h1M70 123.5h1M71 124.5h1M72 125.5h1M73 126.5h1M74 127.5h1M75 128.5h1M76 129.5h1M77 130.5h1M77 131.5h1M78 132.5h1M79 133.5h1M80 134.5h1M80 135.5h1M81 136.5h1M83 140.5h1M85 144.5h1M87 148.5h1M87 149.5h1M88 150.5h1M90 154.5h1M92 158.5h1M93 159.5h1M93 160.5h1M94 161.5h1M95 162.5h1M96 163.5h1M96 164.5h1M384 164.5h9M97 165.5h1M382 165.5h2M393 165.5h1M98 166.5h1M314 166.5h10M379 166.5h3M394 166.5h1M99 167.5h1M312 167.5h2M324 167.5h14M377 167.5h2M395 167.5h1M99 168.5h1M310 168.5h2M338 168.5h2M354 168.5h23M396 168.5h19M100 169.5h1M308 169.5h2M340 169.5h5M351 169.5h3M415 169.5h5M101 170.5h1M306 170.5h2M345 170.5h6M420 170.5h2M101 171.5h1M298 171.5h8M422 171.5h2M102 172.5h1M290 172.5h8M424 172.5h2M103 173.5h1M287 173.5h3M426 173.5h3M103 174.5h1M286 174.5h1M429 174.5h2M104 175.5h1M283 175.5h3M431 175.5h3M105 176.5h1M280 176.5h3M434 176.5h2M106 177.5h1M277 177.5h3M436 177.5h2M106 178.5h1M275 178.5h2M438 178.5h3M107 179.5h1M274 179.5h1M441 179.5h2M108 180.5h1M273 180.5h1M443 180.5h2M108 181.5h1M272 181.5h1M445 181.5h2M109 182.5h1M271 182.5h1M447 182.5h2M110 183.5h1M271 183.5h1M449 183.5h2M111 184.5h1M270 184.5h1M451 184.5h1M112 185.5h1M269 185.5h1M452 185.5h1M113 186.5h1M268 186.5h1M453 186.5h1M113 187.5h1M267 187.5h1M454 187.5h1M114 188.5h1M266 188.5h1M455 188.5h1M115 189.5h1M266 189.5h1M456 189.5h2M116 190.5h1M265 190.5h1M458 190.5h2M117 191.5h1M264 191.5h1M460 191.5h2M118 192.5h2M263 192.5h1M462 192.5h2M120 193.5h1M263 193.5h1M464 193.5h2M121 194.5h1M262 194.5h1M466 194.5h77M122 195.5h1M261 195.5h1M543 195.5h2M123 196.5h1M261 196.5h1M545 196.5h2M124 197.5h1M260 197.5h1M547 197.5h1M125 198.5h1M259 198.5h1M548 198.5h1M126 199.5h1M258 199.5h1M548 199.5h1M127 200.5h1M258 200.5h1M549 200.5h1M127 201.5h1M257 201.5h1M550 201.5h1M128 202.5h1M256 202.5h1M551 202.5h1M129 203.5h1M256 203.5h1M551 203.5h1M130 204.5h1M255 204.5h1M552 204.5h1M131 205.5h1M254 205.5h1M553 205.5h1M132 206.5h1M253 206.5h1M553 206.5h1M133 207.5h1M253 207.5h1M554 207.5h1M133 208.5h1M252 208.5h1M555 208.5h1M134 209.5h1M251 209.5h1M556 209.5h1M134 210.5h1M251 210.5h1M557 210.5h1M135 211.5h1M250 211.5h1M558 211.5h1M136 212.5h1M249 212.5h1M558 212.5h1M136 213.5h1M248 213.5h1M559 213.5h1M137 214.5h1M248 214.5h1M560 214.5h1M138 215.5h1M247 215.5h1M561 215.5h1M138 216.5h1M246 216.5h1M562 216.5h1M139 217.5h1M246 217.5h1M563 217.5h1M140 218.5h1M245 218.5h1M564 218.5h1M140 219.5h1M244 219.5h1M565 219.5h1M141 220.5h1M243 220.5h1M565 220.5h1M141 221.5h1M243 221.5h1M566 221.5h1M142 222.5h1M242 222.5h1M567 222.5h1M143 223.5h1M241 223.5h1M568 223.5h1M143 224.5h1M240 224.5h1M569 224.5h1M144 225.5h1M240 225.5h1M569 225.5h1M145 226.5h1M239 226.5h1M570 226.5h1M145 227.5h1M238 227.5h1M571 227.5h1M146 228.5h1M237 228.5h1M572 228.5h1M147 229.5h1M237 229.5h1M572 229.5h1M148 230.5h1M236 230.5h1M573 230.5h1M148 231.5h1M235 231.5h1M574 231.5h1M149 232.5h1M235 232.5h1M574 232.5h1M150 233.5h1M234 233.5h1M575 233.5h1M150 234.5h1M233 234.5h1M575 234.5h1M151 235.5h1M232 235.5h1M576 235.5h1M152 236.5h1M232 236.5h1M577 236.5h1M152 237.5h1M231 237.5h1M577 237.5h1M153 238.5h1M230 238.5h1M578 238.5h1M154 239.5h1M230 239.5h1M579 239.5h1M155 240.5h1M229 240.5h1M579 240.5h1M155 241.5h1M228 241.5h1M580 241.5h1M156 242.5h1M228 242.5h1M581 242.5h2M157 243.5h1M227 243.5h1M583 243.5h1M157 244.5h1M226 244.5h1M584 244.5h2M158 245.5h1M226 245.5h1M586 245.5h1M159 246.5h1M225 246.5h1M587 246.5h2M160 247.5h1M224 247.5h1M589 247.5h1M160 248.5h1M223 248.5h1M590 248.5h1M161 249.5h1M223 249.5h1M591 249.5h1M161 250.5h1M222 250.5h1M592 250.5h1M162 251.5h1M221 251.5h1M593 251.5h1M221 252.5h1M594 252.5h1M220 253.5h1M595 253.5h1M219 254.5h1M596 254.5h1M164 255.5h3M218 255.5h1M597 255.5h1M167 256.5h5M218 256.5h1M598 256.5h1M172 257.5h3M217 257.5h1M599 257.5h2M175 258.5h1M216 258.5h1M601 258.5h1M176 259.5h1M215 259.5h1M602 259.5h1M177 260.5h1M214 260.5h1M603 260.5h1M177 261.5h1M213 261.5h1M604 261.5h1M178 262.5h1M213 262.5h1M605 262.5h1M179 263.5h1M212 263.5h1M606 263.5h2M180 264.5h1M211 264.5h1M608 264.5h1M181 265.5h2M210 265.5h1M609 265.5h2M183 266.5h1M208 266.5h2M611 266.5h1M184 267.5h1M206 267.5h2M612 267.5h1M185 268.5h2M204 268.5h2M613 268.5h1M187 269.5h2M202 269.5h2M614 269.5h1M189 270.5h4M198 270.5h4M615 270.5h1M193 271.5h5M616 271.5h2M618 272.5h1M619 273.5h1M620 274.5h1M621 275.5h2M623 276.5h1M624 277.5h1M625 278.5h2M627 279.5h2M629 280.5h3M632 281.5h3M635 282.5h3M645 282.5h19M638 283.5h7M664 283.5h5M669 284.5h4M673 285.5h3M676 286.5h4M680 287.5h3M683 288.5h1M684 289.5h3M687 290.5h1M688 291.5h3M691 292.5h2M693 293.5h1M694 294.5h3M697 295.5h1M698 296.5h4M702 297.5h4M706 298.5h11M717 299.5h18M735 300.5h2M737 301.5h2M788 301.5h6M739 302.5h3M783 302.5h5M794 302.5h5M742 303.5h2M779 303.5h4M799 303.5h2M744 304.5h2M776 304.5h3M801 304.5h3M746 305.5h30M804 305.5h2M806 306.5h3M809 307.5h2M811 308.5h3M814 309.5h2M816 310.5h3M819 311.5h2M821 312.5h2M823 313.5h2M825 314.5h2M827 315.5h2M829 316.5h2M831 317.5h1M832 318.5h1M833 319.5h2M835 320.5h1M836 321.5h20M856 322.5h4M860 323.5h3M863 324.5h2M865 325.5h2M867 326.5h3M870 327.5h3M879 327.5h13M873 328.5h6M892 328.5h2M894 329.5h2M896 330.5h2M898 331.5h4M902 332.5h3M905 333.5h6M911 334.5h5M916 335.5h4M920 336.5h1M921 337.5h1M922 338.5h1M923 339.5h1" fill="none" stroke="#0000d0" stroke-width="1" shape-rendering="crispEdges"/>
</g>
<g shape-rendering="crispEdges">
<rect x="4" y="107" width="1162" height="2" fill="#ff0000"/>
<rect x="3" y="105" width="6" height="6" fill="#ff0000"/>
<rect x="5" y="107" width="2" height="2" fill="#fff"/>
<rect x="1160" y="105" width="6" height="6" fill="#ff0000"/>
<rect x="1162" y="107" width="2" height="2" fill="#fff"/>
<rect x="4" y="195" width="1162" height="2" fill="#ff0000"/>
<rect x="3" y="193" width="6" height="6" fill="#ff0000"/>
<rect x="5" y="195" width="2" height="2" fill="#fff"/>
<rect x="1160" y="193" width="6" height="6" fill="#ff0000"/>
<rect x="1162" y="195" width="2" height="2" fill="#fff"/>
<rect x="4" y="253" width="1162" height="2" fill="#ff0000"/>
<rect x="3" y="251" width="6" height="6" fill="#ff0000"/>
<rect x="5" y="253" width="2" height="2" fill="#fff"/>
<rect x="1160" y="251" width="6" height="6" fill="#ff0000"/>
<rect x="1162" y="253" width="2" height="2" fill="#fff"/>
<rect x="4" y="314" width="1162" height="2" fill="#00ff00"/>
<rect x="3" y="312" width="6" height="6" fill="#00ff00"/>
<rect x="5" y="314" width="2" height="2" fill="#fff"/>
<rect x="1160" y="312" width="6" height="6" fill="#00ff00"/>
<rect x="1162" y="314" width="2" height="2" fill="#fff"/>
<rect x="4" y="373" width="1162" height="2" fill="#0000ff"/>
<rect x="3" y="371" width="6" height="6" fill="#0000ff"/>
<rect x="5" y="373" width="2" height="2" fill="#fff"/>
<rect x="1160" y="371" width="6" height="6" fill="#0000ff"/>
<rect x="1162" y="373" width="2" height="2" fill="#fff"/>
</g>
<g shape-rendering="crispEdges">
<rect x="4" y="413.4" width="2" height="22.6" fill="#c0c0c0"/>
<rect x="7" y="412.8" width="3" height="23.2" fill="#c0c0c0"/>
<rect x="11" y="415.5" width="3" height="20.5" fill="#c0c0c0"/>
<rect x="15" y="420.2" width="3" height="15.8" fill="#c0c0c0"/>
<rect x="19" y="423" width="3" height="13" fill="#c0c0c0"/>
<rect x="23" y="425.3" width="3" height="10.7" fill="#c0c0c0"/>
<rect x="27" y="429" width="3" height="7" fill="#c0c0c0"/>
<rect x="31" y="433" width="3" height="3" fill="#c0c0c0"/>
<rect x="35" y="436" width="3" height="2" fill="#c0c0c0"/>
<rect x="39" y="436" width="3" height="5" fill="#c0c0c0"/>
<rect x="43" y="436" width="3" height="8" fill="#c0c0c0"/>
<rect x="47" y="436" width="3" height="11" fill="#c0c0c0"/>
<rect x="51" y="436" width="3" height="13" fill="#c0c0c0"/>
<rect x="55" y="436" width="3" height="15" fill="#c0c0c0"/>
<rect x="59" y="436" width="3" height="17" fill="#c0c0c0"/>
<rect x="63" y="436" width="3" height="17.8" fill="#c0c0c0"/>
<rect x="67" y="436" width="3" height="19" fill="#c0c0c0"/>
<rect x="71" y="436" width="3" height="17.8" fill="#c0c0c0"/>
<rect x="75" y="436" width="3" height="17" fill="#c0c0c0"/>
<rect x="79" y="436" width="3" height="17.8" fill="#c0c0c0"/>
<rect x="83" y="436" width="3" height="23" fill="#c0c0c0"/>
<rect x="87" y="436" width="3" height="26" fill="#c0c0c0"/>
<rect x="91" y="436" width="3" height="27.9" fill="#c0c0c0"/>
<rect x="95" y="436" width="3" height="26" fill="#c0c0c0"/>
<rect x="99" y="436" width="3" height="25.8" fill="#c0c0c0"/>
<rect x="103" y="436" width="3" height="26" fill="#c0c0c0"/>
<rect x="107" y="436" width="3" height="25" fill="#c0c0c0"/>
<rect x="111" y="436" width="3" height="25" fill="#c0c0c0"/>
<rect x="115" y="436" width="3" height="25" fill="#c0c0c0"/>
<rect x="119" y="436" width="3" height="25.6" fill="#c0c0c0"/>
<rect x="123" y="436" width="3" height="25.6" fill="#c0c0c0"/>
<rect x="127" y="436" width="3" height="25.6" fill="#c0c0c0"/>
<rect x="131" y="436" width="3" height="26" fill="#c0c0c0"/>
<rect x="135" y="436" width="3" height="28.5" fill="#c0c0c0"/>
<rect x="139" y="436" width="3" height="31" fill="#c0c0c0"/>
<rect x="143" y="436" width="3" height="34.6" fill="#c0c0c0"/>
<rect x="147" y="436" width="3" height="36" fill="#c0c0c0"/>
<rect x="151" y="436" width="3" height="36" fill="#c0c0c0"/>
<rect x="155" y="436" width="3" height="34.6" fill="#c0c0c0"/>
<rect x="159" y="436" width="3" height="31.9" fill="#c0c0c0"/>
<rect x="163" y="436" width="3" height="31" fill="#c0c0c0"/>
<rect x="167" y="436" width="3" height="29.9" fill="#c0c0c0"/>
<rect x="171" y="436" width="3" height="27" fill="#c0c0c0"/>
<rect x="175" y="436" width="3" height="25.8" fill="#c0c0c0"/>
<rect x="179" y="436" width="3" height="24.8" fill="#c0c0c0"/>
<rect x="183" y="436" width="3" height="23" fill="#c0c0c0"/>
<rect x="187" y="436" width="3" height="19.8" fill="#c0c0c0"/>
<rect x="191" y="436" width="3" height="16.7" fill="#c0c0c0"/>
<rect x="195" y="436" width="3" height="11.7" fill="#c0c0c0"/>
<rect x="199" y="436" width="3" height="6.8" fill="#c0c0c0"/>
<rect x="203" y="436" width="3" height="2" fill="#c0c0c0"/>
<rect x="207" y="432" width="3" height="4" fill="#c0c0c0"/>
<rect x="211" y="427" width="3" height="9" fill="#c0c0c0"/>
<rect x="215" y="424.2" width="3" height="11.8" fill="#c0c0c0"/>
<rect x="219" y="422" width="3" height="14" fill="#c0c0c0"/>
<rect x="223" y="421.2" width="3" height="14.8" fill="#c0c0c0"/>
<rect x="227" y="421.2" width="3" height="14.8" fill="#c0c0c0"/>
<rect x="231" y="421.2" width="3" height="14.8" fill="#c0c0c0"/>
<rect x="235" y="420" width="3" height="16" fill="#c0c0c0"/>
<rect x="239" y="419" width="3" height="17" fill="#c0c0c0"/>
<rect x="243" y="419" width="3" height="17" fill="#c0c0c0"/>
<rect x="247" y="420" width="3" height="16" fill="#c0c0c0"/>
<rect x="251" y="420" width="3" height="16" fill="#c0c0c0"/>
<rect x="255" y="420" width="3" height="16" fill="#c0c0c0"/>
<rect x="259" y="418" width="3" height="18" fill="#c0c0c0"/>
<rect x="263" y="418" width="3" height="18" fill="#c0c0c0"/>
<rect x="267" y="419" width="3" height="17" fill="#c0c0c0"/>
<rect x="271" y="419.5" width="3" height="16.5" fill="#c0c0c0"/>
<rect x="275" y="422" width="3" height="14" fill="#c0c0c0"/>
<rect x="279" y="424.2" width="3" height="11.8" fill="#c0c0c0"/>
<rect x="283" y="424.2" width="3" height="11.8" fill="#c0c0c0"/>
<rect x="287" y="423" width="3" height="13" fill="#c0c0c0"/>
<rect x="291" y="423" width="3" height="13" fill="#c0c0c0"/>
<rect x="295" y="424.9" width="3" height="11.1" fill="#c0c0c0"/>
<rect x="299" y="426.2" width="3" height="9.8" fill="#c0c0c0"/>
<rect x="303" y="426.2" width="3" height="9.8" fill="#c0c0c0"/>
<rect x="307" y="426.2" width="3" height="9.8" fill="#c0c0c0"/>
<rect x="311" y="423" width="3" height="13" fill="#c0c0c0"/>
<rect x="315" y="423" width="3" height="13" fill="#c0c0c0"/>
<rect x="319" y="426.2" width="3" height="9.8" fill="#c0c0c0"/>
<rect x="323" y="428" width="3" height="8" fill="#c0c0c0"/>
<rect x="327" y="430.3" width="3" height="5.7" fill="#c0c0c0"/>
<rect x="331" y="432.3" width="3" height="3.7" fill="#c0c0c0"/>
<rect x="335" y="433.3" width="3" height="2.7" fill="#c0c0c0"/>
<rect x="339" y="434.3" width="3" height="1.7" fill="#c0c0c0"/>
<rect x="343" y="434.3" width="3" height="1.7" fill="#c0c0c0"/>
<rect x="347" y="433.3" width="3" height="2.7" fill="#c0c0c0"/>
<rect x="351" y="431.6" width="3" height="4.4" fill="#c0c0c0"/>
<rect x="355" y="432.3" width="3" height="3.7" fill="#c0c0c0"/>
<rect x="359" y="432.3" width="3" height="3.7" fill="#c0c0c0"/>
<rect x="363" y="432.3" width="3" height="3.7" fill="#c0c0c0"/>
<rect x="367" y="433.3" width="3" height="2.7" fill="#c0c0c0"/>
<rect x="371" y="431.6" width="3" height="4.4" fill="#c0c0c0"/>
<rect x="375" y="431.2" width="3" height="4.8" fill="#c0c0c0"/>
<rect x="379" y="429.3" width="3" height="6.7" fill="#c0c0c0"/>
<rect x="383" y="428" width="3" height="8" fill="#c0c0c0"/>
<rect x="387" y="428.9" width="3" height="7.1" fill="#c0c0c0"/>
<rect x="391" y="431.6" width="3" height="4.4" fill="#c0c0c0"/>
<rect x="395" y="433.3" width="3" height="2.7" fill="#c0c0c0"/>
<rect x="399" y="433.3" width="3" height="2.7" fill="#c0c0c0"/>
<rect x="403" y="435" width="3" height="1" fill="#c0c0c0"/>
<rect x="407" y="436" width="3" height="1" fill="#c0c0c0"/>
<rect x="411" y="436" width="3" height="3" fill="#c0c0c0"/>
<rect x="415" y="436" width="3" height="5" fill="#c0c0c0"/>
<rect x="419" y="436" width="3" height="7" fill="#c0c0c0"/>
<rect x="423" y="436" width="3" height="9" fill="#c0c0c0"/>
<rect x="427" y="436" width="3" height="10" fill="#c0c0c0"/>
<rect x="431" y="436" width="3" height="8.6" fill="#c0c0c0"/>
<rect x="435" y="436" width="3" height="7.7" fill="#c0c0c0"/>
<rect x="439" y="436" width="3" height="9" fill="#c0c0c0"/>
<rect x="443" y="436" width="3" height="10" fill="#c0c0c0"/>
<rect x="447" y="436" width="3" height="10" fill="#c0c0c0"/>
<rect x="451" y="436" width="3" height="10.8" fill="#c0c0c0"/>
<rect x="455" y="436" width="3" height="12.7" fill="#c0c0c0"/>
<rect x="459" y="436" width="3" height="10.4" fill="#c0c0c0"/>
<rect x="463" y="436" width="3" height="7.7" fill="#c0c0c0"/>
<rect x="467" y="436" width="3" height="4.6" fill="#c0c0c0"/>
<rect x="471" y="436" width="3" height="2" fill="#c0c0c0"/>
<rect x="475" y="436" width="3" height="1" fill="#c0c0c0"/>
<rect x="479" y="436" width="3" height="1" fill="#c0c0c0"/>
<rect x="483" y="436" width="3" height="1" fill="#c0c0c0"/>
<rect x="487" y="436" width="3" height="1" fill="#c0c0c0"/>
<rect x="491" y="435" width="3" height="1" fill="#c0c0c0"/>
<rect x="495" y="434" width="3" height="2" fill="#c0c0c0"/>
<rect x="499" y="436" width="3" height="1" fill="#c0c0c0"/>
<rect x="503" y="436" width="3" height="3.7" fill="#c0c0c0"/>
<rect x="507" y="436" width="3" height="3.7" fill="#c0c0c0"/>
<rect x="511" y="436" width="3" height="4.6" fill="#c0c0c0"/>
<rect x="515" y="436" width="3" height="4.6" fill="#c0c0c0"/>
<rect x="519" y="436" width="3" height="4.6" fill="#c0c0c0"/>
<rect x="523" y="436" width="3" height="5.7" fill="#c0c0c0"/>
<rect x="527" y="436" width="3" height="4.3" fill="#c0c0c0"/>
<rect x="531" y="436" width="3" height="3.7" fill="#c0c0c0"/>
<rect x="535" y="436" width="3" height="6.8" fill="#c0c0c0"/>
<rect x="539" y="436" width="3" height="7.7" fill="#c0c0c0"/>
<rect x="543" y="436" width="3" height="6" fill="#c0c0c0"/>
<rect x="547" y="436" width="3" height="9.7" fill="#c0c0c0"/>
<rect x="551" y="436" width="3" height="15.8" fill="#c0c0c0"/>
<rect x="555" y="436" width="3" height="17.8" fill="#c0c0c0"/>
<rect x="559" y="436" width="3" height="19.8" fill="#c0c0c0"/>
<rect x="563" y="436" width="3" height="21.8" fill="#c0c0c0"/>
<rect x="567" y="436" width="3" height="23.8" fill="#c0c0c0"/>
<rect x="571" y="436" width="3" height="25.8" fill="#c0c0c0"/>
<rect x="575" y="436" width="3" height="24.8" fill="#c0c0c0"/>
<rect x="579" y="436" width="3" height="24.8" fill="#c0c0c0"/>
<rect x="583" y="436" width="3" height="21" fill="#c0c0c0"/>
<rect x="587" y="436" width="3" height="20.5" fill="#c0c0c0"/>
<rect x="591" y="436" width="3" height="19.8" fill="#c0c0c0"/>
<rect x="595" y="436" width="3" height="18.9" fill="#c0c0c0"/>
<rect x="599" y="436" width="3" height="17.8" fill="#c0c0c0"/>
<rect x="603" y="436" width="3" height="16.7" fill="#c0c0c0"/>
<rect x="607" y="436" width="3" height="16.7" fill="#c0c0c0"/>
<rect x="611" y="436" width="3" height="16.7" fill="#c0c0c0"/>
<rect x="615" y="436" width="3" height="14.8" fill="#c0c0c0"/>
<rect x="619" y="436" width="3" height="14.8" fill="#c0c0c0"/>
<rect x="623" y="436" width="3" height="14.8" fill="#c0c0c0"/>
<rect x="627" y="436" width="3" height="14.4" fill="#c0c0c0"/>
<rect x="631" y="436" width="3" height="13.7" fill="#c0c0c0"/>
<rect x="635" y="436" width="3" height="13.7" fill="#c0c0c0"/>
<rect x="639" y="436" width="3" height="13" fill="#c0c0c0"/>
<rect x="643" y="436" width="3" height="12.4" fill="#c0c0c0"/>
<rect x="647" y="436" width="3" height="11.3" fill="#c0c0c0"/>
<rect x="651" y="436" width="3" height="10.4" fill="#c0c0c0"/>
<rect x="655" y="436" width="3" height="9.7" fill="#c0c0c0"/>
<rect x="659" y="436" width="3" height="8.6" fill="#c0c0c0"/>
<rect x="663" y="436" width="3" height="7.7" fill="#c0c0c0"/>
<rect x="667" y="436" width="3" height="7.7" fill="#c0c0c0"/>
<rect x="671" y="436" width="3" height="8.6" fill="#c0c0c0"/>
<rect x="675" y="436" width="3" height="9.7" fill="#c0c0c0"/>
<rect x="679" y="436" width="3" height="10.8" fill="#c0c0c0"/>
<rect x="683" y="436" width="3" height="10.8" fill="#c0c0c0"/>
<rect x="687" y="436" width="3" height="10.8" fill="#c0c0c0"/>
<rect x="691" y="436" width="3" height="11.7" fill="#c0c0c0"/>
<rect x="695" y="436" width="3" height="13.7" fill="#c0c0c0"/>
<rect x="699" y="436" width="3" height="12.7" fill="#c0c0c0"/>
<rect x="703" y="436" width="3" height="9.7" fill="#c0c0c0"/>
<rect x="707" y="436" width="3" height="9.7" fill="#c0c0c0"/>
<rect x="711" y="436" width="3" height="9.7" fill="#c0c0c0"/>
<rect x="715" y="436" width="3" height="8.6" fill="#c0c0c0"/>
<rect x="719" y="436" width="3" height="7.7" fill="#c0c0c0"/>
<rect x="723" y="436" width="3" height="6.8" fill="#c0c0c0"/>
<rect x="727" y="436" width="3" height="4.6" fill="#c0c0c0"/>
<rect x="731" y="436" width="3" height="4.6" fill="#c0c0c0"/>
<rect x="735" y="436" width="3" height="4.6" fill="#c0c0c0"/>
<rect x="739" y="436" width="3" height="4.6" fill="#c0c0c0"/>
<rect x="743" y="436" width="3" height="4.6" fill="#c0c0c0"/>
<rect x="747" y="436" width="3" height="3.7" fill="#c0c0c0"/>
<rect x="751" y="436" width="3" height="3" fill="#c0c0c0"/>
<rect x="755" y="436" width="3" height="3" fill="#c0c0c0"/>
<rect x="759" y="436" width="3" height="3" fill="#c0c0c0"/>
<rect x="763" y="436" width="3" height="3" fill="#c0c0c0"/>
<rect x="767" y="436" width="3" height="3" fill="#c0c0c0"/>
<rect x="771" y="436" width="3" height="2.6" fill="#c0c0c0"/>
<rect x="775" y="436" width="3" height="2.2" fill="#c0c0c0"/>
<rect x="779" y="436" width="3" height="1.6" fill="#c0c0c0"/>
<rect x="783" y="436" width="3" height="1.6" fill="#c0c0c0"/>
<rect x="787" y="436" width="3" height="1" fill="#c0c0c0"/>
<rect x="791" y="436" width="3" height="1" fill="#c0c0c0"/>
<rect x="795" y="436" width="3" height="2" fill="#c0c0c0"/>
<rect x="799" y="436" width="3" height="3.7" fill="#c0c0c0"/>
<rect x="803" y="436" width="3" height="4.6" fill="#c0c0c0"/>
<rect x="807" y="436" width="3" height="6.8" fill="#c0c0c0"/>
<rect x="811" y="436" width="3" height="6.8" fill="#c0c0c0"/>
<rect x="815" y="436" width="3" height="7.7" fill="#c0c0c0"/>
<rect x="819" y="436" width="3" height="8.6" fill="#c0c0c0"/>
<rect x="823" y="436" width="3" height="9.7" fill="#c0c0c0"/>
<rect x="827" y="436" width="3" height="11.7" fill="#c0c0c0"/>
<rect x="831" y="436" width="3" height="13.7" fill="#c0c0c0"/>
<rect x="835" y="436" width="3" height="13.7" fill="#c0c0c0"/>
<rect x="839" y="436" width="3" height="10.4" fill="#c0c0c0"/>
<rect x="843" y="436" width="3" height="9" fill="#c0c0c0"/>
<rect x="847" y="436" width="3" height="5.7" fill="#c0c0c0"/>
<rect x="851" y="436" width="3" height="4.6" fill="#c0c0c0"/>
<rect x="855" y="436" width="3" height="4.6" fill="#c0c0c0"/>
<rect x="859" y="436" width="3" height="4.6" fill="#c0c0c0"/>
<rect x="863" y="436" width="3" height="3.7" fill="#c0c0c0"/>
<rect x="867" y="436" width="3" height="3.7" fill="#c0c0c0"/>
<rect x="871" y="436" width="3" height="2.7" fill="#c0c0c0"/>
<rect x="875" y="436" width="3" height="1.6" fill="#c0c0c0"/>
<rect x="879" y="436" width="3" height="1.6" fill="#c0c0c0"/>
<rect x="883" y="436" width="3" height="1" fill="#c0c0c0"/>
<rect x="887" y="436" width="3" height="1.6" fill="#c0c0c0"/>
<rect x="891" y="436" width="3" height="3.7" fill="#c0c0c0"/>
<rect x="895" y="436" width="3" height="5.7" fill="#c0c0c0"/>
<rect x="899" y="436" width="3" height="7.7" fill="#c0c0c0"/>
<rect x="903" y="436" width="3" height="9.7" fill="#c0c0c0"/>
<rect x="907" y="436" width="3" height="10.8" fill="#c0c0c0"/>
<rect x="911" y="436" width="3" height="11.7" fill="#c0c0c0"/>
<rect x="915" y="436" width="3" height="13.7" fill="#c0c0c0"/>
<rect x="919" y="436" width="3" height="13.7" fill="#c0c0c0"/>
<rect x="923" y="436" width="3" height="15.8" fill="#c0c0c0"/>
</g>
<path d="M4 411.5h8M12 412.5h4M16 413.5h2M18 414.5h2M20 415.5h2M22 416.5h2M24 417.5h2M26 418.5h1M27 419.5h2M267 419.5h13M29 420.5h2M249 420.5h18M280 420.5h9M31 421.5h2M246 421.5h3M289 421.5h7M33 422.5h2M243 422.5h3M296 422.5h4M35 423.5h1M239 423.5h4M300 423.5h5M36 424.5h1M237 424.5h2M305 424.5h19M37 425.5h2M235 425.5h2M324 425.5h4M39 426.5h1M233 426.5h2M328 426.5h3M40 427.5h1M231 427.5h2M331 427.5h3M41 428.5h1M230 428.5h1M334 428.5h11M42 429.5h2M229 429.5h1M345 429.5h2M44 430.5h1M228 430.5h1M347 430.5h3M45 431.5h1M227 431.5h1M350 431.5h2M382 431.5h27M46 432.5h2M226 432.5h1M352 432.5h13M371 432.5h11M409 432.5h3M48 433.5h2M225 433.5h1M365 433.5h6M412 433.5h4M50 434.5h1M224 434.5h1M416 434.5h4M51 435.5h2M223 435.5h1M420 435.5h3M53 436.5h1M222 436.5h1M423 436.5h1M496 436.5h17M54 437.5h1M221 437.5h1M424 437.5h3M492 437.5h4M513 437.5h5M55 438.5h1M220 438.5h1M427 438.5h1M490 438.5h2M518 438.5h7M787 438.5h28M880 438.5h24M56 439.5h1M219 439.5h1M428 439.5h3M488 439.5h2M525 439.5h12M783 439.5h4M815 439.5h6M877 439.5h3M904 439.5h3M57 440.5h2M218 440.5h1M431 440.5h3M485 440.5h3M537 440.5h5M750 440.5h33M821 440.5h2M873 440.5h4M907 440.5h4M59 441.5h1M217 441.5h1M434 441.5h4M481 441.5h4M542 441.5h9M743 441.5h7M823 441.5h3M868 441.5h5M911 441.5h3M60 442.5h1M216 442.5h1M438 442.5h3M478 442.5h3M551 442.5h2M737 442.5h6M826 442.5h3M865 442.5h3M914 442.5h3M61 443.5h1M215 443.5h1M441 443.5h11M474 443.5h4M553 443.5h2M734 443.5h3M829 443.5h3M860 443.5h5M917 443.5h2M62 444.5h1M213 444.5h2M452 444.5h3M471 444.5h3M555 444.5h2M731 444.5h3M832 444.5h3M855 444.5h5M919 444.5h3M63 445.5h2M212 445.5h1M455 445.5h16M557 445.5h2M671 445.5h29M726 445.5h5M835 445.5h20M922 445.5h2M65 446.5h2M211 446.5h1M559 446.5h2M663 446.5h8M700 446.5h26M67 447.5h2M210 447.5h1M561 447.5h2M659 447.5h4M69 448.5h2M209 448.5h1M563 448.5h3M652 448.5h7M71 449.5h4M208 449.5h1M566 449.5h2M645 449.5h7M75 450.5h3M206 450.5h2M568 450.5h2M639 450.5h6M78 451.5h4M205 451.5h1M570 451.5h3M624 451.5h15M82 452.5h2M204 452.5h1M573 452.5h1M620 452.5h4M84 453.5h2M203 453.5h1M574 453.5h3M616 453.5h4M86 454.5h3M201 454.5h2M577 454.5h1M612 454.5h4M89 455.5h2M200 455.5h1M578 455.5h3M608 455.5h4M91 456.5h2M198 456.5h2M581 456.5h2M604 456.5h4M93 457.5h12M197 457.5h1M583 457.5h3M600 457.5h4M105 458.5h3M195 458.5h2M586 458.5h14M108 459.5h3M194 459.5h1M111 460.5h3M124 460.5h16M193 460.5h1M114 461.5h10M140 461.5h3M191 461.5h2M143 462.5h3M189 462.5h2M146 463.5h3M185 463.5h4M149 464.5h2M182 464.5h3M151 465.5h3M180 465.5h2M154 466.5h6M178 466.5h2M160 467.5h8M174 467.5h4M168 468.5h6" fill="none" stroke="#ff0000" stroke-width="1" shape-rendering="crispEdges"/>
<g shape-rendering="crispEdges">
<line x1="5" y1="499.5" x2="1166" y2="499.5" stroke="#c0c0c0" stroke-width="1" stroke-dasharray="3 3"/>
<line x1="5" y1="527.5" x2="1166" y2="527.5" stroke="#c0c0c0" stroke-width="1" stroke-dasharray="3 3"/>
</g>
<path d="M699.5 517v3M839.5 513v4M550.5 523v3M838.5 517v3M778.5 510v3M697.5 522v3M837.5 520v4M211 501.5h6M312 501.5h1M209 502.5h2M217 502.5h1M260 502.5h1M311 502.5h2M206 503.5h3M218 503.5h2M259 503.5h1M261 503.5h2M311 503.5h1M313 503.5h1M202 504.5h4M220 504.5h1M237 504.5h6M252 504.5h2M258 504.5h1M263 504.5h2M288 504.5h1M310 504.5h1M313 504.5h1M199 505.5h3M221 505.5h1M235 505.5h2M243 505.5h2M251 505.5h1M254 505.5h1M257 505.5h1M265 505.5h2M287 505.5h1M289 505.5h1M310 505.5h1M314 505.5h1M198 506.5h1M222 506.5h2M232 506.5h3M245 506.5h1M250 506.5h1M255 506.5h2M267 506.5h1M271 506.5h2M286 506.5h1M290 506.5h1M309 506.5h1M314 506.5h1M4 507.5h1M197 507.5h1M224 507.5h8M246 507.5h2M249 507.5h1M268 507.5h3M273 507.5h1M286 507.5h1M291 507.5h1M309 507.5h1M315 507.5h1M380 507.5h5M470 507.5h2M780 507.5h1M5 508.5h1M196 508.5h1M248 508.5h1M273 508.5h1M285 508.5h1M292 508.5h1M308 508.5h1M315 508.5h1M372 508.5h2M378 508.5h2M385 508.5h1M466 508.5h4M472 508.5h1M780 508.5h2M6 509.5h2M196 509.5h1M274 509.5h1M284 509.5h1M293 509.5h1M306 509.5h2M316 509.5h1M371 509.5h1M374 509.5h1M377 509.5h1M385 509.5h1M464 509.5h2M473 509.5h2M495 509.5h1M779 509.5h1M782 509.5h1M8 510.5h3M195 510.5h1M275 510.5h1M282 510.5h2M294 510.5h1M305 510.5h1M316 510.5h1M346 510.5h9M370 510.5h1M375 510.5h2M386 510.5h1M463 510.5h1M475 510.5h1M493 510.5h2M496 510.5h1M783 510.5h1M842 510.5h9M11 511.5h3M195 511.5h1M275 511.5h1M281 511.5h1M294 511.5h1M299 511.5h6M317 511.5h1M345 511.5h1M355 511.5h1M370 511.5h1M387 511.5h1M463 511.5h1M476 511.5h2M492 511.5h1M496 511.5h1M784 511.5h2M840 511.5h2M851 511.5h1M873 511.5h2M882 511.5h2M14 512.5h1M194 512.5h1M276 512.5h5M295 512.5h1M298 512.5h1M317 512.5h1M343 512.5h2M356 512.5h8M369 512.5h1M387 512.5h1M400 512.5h1M462 512.5h1M478 512.5h2M490 512.5h2M497 512.5h1M723 512.5h5M786 512.5h1M840 512.5h1M852 512.5h2M871 512.5h2M875 512.5h1M879 512.5h3M884 512.5h1M15 513.5h3M194 513.5h1M296 513.5h2M318 513.5h1M342 513.5h1M364 513.5h5M388 513.5h1M399 513.5h1M401 513.5h1M461 513.5h1M480 513.5h5M488 513.5h2M497 513.5h1M528 513.5h3M664 513.5h1M721 513.5h2M728 513.5h2M777 513.5h1M787 513.5h4M854 513.5h1M865 513.5h2M869 513.5h2M876 513.5h3M885 513.5h1M18 514.5h1M23 514.5h2M193 514.5h1M319 514.5h1M342 514.5h1M389 514.5h1M398 514.5h1M401 514.5h1M461 514.5h1M485 514.5h3M498 514.5h1M515 514.5h3M527 514.5h1M531 514.5h2M655 514.5h3M662 514.5h2M665 514.5h1M719 514.5h2M730 514.5h2M776 514.5h1M791 514.5h2M855 514.5h1M864 514.5h1M867 514.5h2M886 514.5h1M19 515.5h4M25 515.5h1M188 515.5h6M319 515.5h1M322 515.5h18M341 515.5h1M390 515.5h2M397 515.5h1M402 515.5h1M433 515.5h3M460 515.5h1M498 515.5h1M514 515.5h1M518 515.5h2M526 515.5h1M533 515.5h1M652 515.5h3M658 515.5h1M661 515.5h1M666 515.5h1M700 515.5h8M716 515.5h3M732 515.5h7M760 515.5h1M770 515.5h7M793 515.5h1M856 515.5h2M862 515.5h2M887 515.5h1M26 516.5h1M186 516.5h2M320 516.5h2M340 516.5h1M392 516.5h5M403 516.5h1M407 516.5h2M432 516.5h1M436 516.5h2M460 516.5h1M499 516.5h1M508 516.5h6M520 516.5h3M525 516.5h1M533 516.5h1M616 516.5h2M645 516.5h2M650 516.5h2M659 516.5h2M667 516.5h1M700 516.5h1M708 516.5h2M713 516.5h3M739 516.5h8M759 516.5h1M761 516.5h1M769 516.5h1M794 516.5h1M858 516.5h1M861 516.5h1M888 516.5h1M26 517.5h1M185 517.5h1M403 517.5h1M406 517.5h1M409 517.5h2M431 517.5h1M438 517.5h2M459 517.5h1M500 517.5h1M507 517.5h1M523 517.5h2M534 517.5h1M584 517.5h2M615 517.5h1M618 517.5h1M644 517.5h1M647 517.5h3M668 517.5h1M710 517.5h3M747 517.5h7M758 517.5h1M762 517.5h1M768 517.5h1M794 517.5h1M859 517.5h2M889 517.5h1M27 518.5h1M75 518.5h3M172 518.5h2M184 518.5h1M404 518.5h2M411 518.5h2M430 518.5h1M440 518.5h2M459 518.5h1M501 518.5h1M506 518.5h1M535 518.5h1M539 518.5h7M583 518.5h1M586 518.5h1M591 518.5h4M599 518.5h7M614 518.5h1M619 518.5h3M631 518.5h2M642 518.5h2M669 518.5h1M754 518.5h2M757 518.5h1M762 518.5h1M766 518.5h2M795 518.5h1M889 518.5h1M28 519.5h2M73 519.5h2M78 519.5h1M96 519.5h4M171 519.5h1M174 519.5h1M182 519.5h2M413 519.5h2M428 519.5h2M442 519.5h2M458 519.5h1M502 519.5h1M506 519.5h1M535 519.5h1M538 519.5h1M546 519.5h2M582 519.5h1M587 519.5h4M595 519.5h4M606 519.5h2M613 519.5h1M622 519.5h1M630 519.5h1M633 519.5h2M641 519.5h1M670 519.5h1M682 519.5h7M756 519.5h1M763 519.5h1M765 519.5h1M796 519.5h3M812 519.5h2M890 519.5h1M30 520.5h2M72 520.5h1M78 520.5h1M95 520.5h1M100 520.5h2M117 520.5h3M123 520.5h2M160 520.5h3M170 520.5h1M175 520.5h4M181 520.5h1M415 520.5h6M427 520.5h1M444 520.5h7M458 520.5h1M503 520.5h1M505 520.5h1M536 520.5h2M548 520.5h1M582 520.5h1M608 520.5h5M623 520.5h7M635 520.5h2M639 520.5h2M670 520.5h1M679 520.5h3M689 520.5h1M698 520.5h1M764 520.5h1M799 520.5h3M811 520.5h1M814 520.5h2M891 520.5h1M32 521.5h3M39 521.5h3M71 521.5h1M79 521.5h1M95 521.5h1M102 521.5h2M107 521.5h2M116 521.5h1M120 521.5h3M125 521.5h1M159 521.5h1M163 521.5h4M169 521.5h1M179 521.5h2M421 521.5h1M426 521.5h1M451 521.5h2M457 521.5h1M504 521.5h1M548 521.5h1M576 521.5h3M581 521.5h1M637 521.5h2M671 521.5h1M675 521.5h4M690 521.5h2M698 521.5h1M802 521.5h2M810 521.5h1M816 521.5h2M891 521.5h1M35 522.5h4M42 522.5h1M52 522.5h2M64 522.5h3M69 522.5h2M79 522.5h1M94 522.5h1M104 522.5h3M109 522.5h1M114 522.5h2M126 522.5h1M158 522.5h1M167 522.5h2M422 522.5h2M425 522.5h1M453 522.5h1M457 522.5h1M549 522.5h1M575 522.5h1M579 522.5h2M672 522.5h3M692 522.5h1M804 522.5h2M810 522.5h1M818 522.5h2M892 522.5h2M43 523.5h3M50 523.5h2M54 523.5h1M63 523.5h1M67 523.5h2M80 523.5h1M94 523.5h1M110 523.5h2M113 523.5h1M127 523.5h1M157 523.5h1M424 523.5h1M454 523.5h3M559 523.5h3M574 523.5h1M693 523.5h1M806 523.5h2M809 523.5h1M820 523.5h3M894 523.5h1M899 523.5h3M920 523.5h1M46 524.5h1M49 524.5h1M55 524.5h3M62 524.5h1M81 524.5h1M93 524.5h1M112 524.5h1M128 524.5h5M153 524.5h4M456 524.5h1M556 524.5h3M562 524.5h2M574 524.5h1M694 524.5h1M808 524.5h1M823 524.5h2M836 524.5h1M895 524.5h4M902 524.5h1M907 524.5h4M919 524.5h1M921 524.5h2M47 525.5h2M58 525.5h1M61 525.5h1M81 525.5h1M93 525.5h1M133 525.5h1M152 525.5h1M555 525.5h1M564 525.5h7M573 525.5h1M695 525.5h2M825 525.5h2M836 525.5h1M903 525.5h4M911 525.5h3M918 525.5h1M923 525.5h1M59 526.5h2M82 526.5h1M92 526.5h1M134 526.5h1M151 526.5h1M551 526.5h1M554 526.5h1M571 526.5h2M696 526.5h1M827 526.5h2M834 526.5h2M914 526.5h2M917 526.5h1M82 527.5h1M90 527.5h2M135 527.5h1M150 527.5h1M552 527.5h2M829 527.5h2M833 527.5h1M916 527.5h1M83 528.5h1M89 528.5h1M136 528.5h2M149 528.5h1M552 528.5h1M831 528.5h2M83 529.5h1M87 529.5h2M138 529.5h2M147 529.5h2M84 530.5h3M140 530.5h3M146 530.5h1M143 531.5h3" fill="none" stroke="#1e90ff" stroke-width="1" shape-rendering="crispEdges"/>
<g shape-rendering="crispEdges" fill="#000">
<rect x="3" y="25" width="1" height="524" fill="#000"/>
<rect x="1166" y="25" width="1" height="524" fill="#000"/>
<rect x="3" y="25" width="1164" height="1" fill="#000"/>
<rect x="3" y="404" width="1164" height="1" fill="#000"/>
<rect x="3" y="406" width="1164" height="1" fill="#000"/>
<rect x="3" y="475" width="1164" height="1" fill="#000"/>
<rect x="3" y="477" width="1164" height="1" fill="#000"/>
<rect x="3" y="548" width="1164" height="1" fill="#000"/>
<rect x="1167" y="38" width="2" height="1" fill="#000"/>
<rect x="1167" y="71" width="2" height="1" fill="#000"/>
<rect x="1167" y="104" width="2" height="1" fill="#000"/>
<rect x="1167" y="137" width="2" height="1" fill="#000"/>
<rect x="1167" y="170" width="2" height="1" fill="#000"/>
<rect x="1167" y="203" width="2" height="1" fill="#000"/>
<rect x="1167" y="236" width="2" height="1" fill="#000"/>
<rect x="1167" y="269" width="2" height="1" fill="#000"/>
<rect x="1167" y="302" width="2" height="1" fill="#000"/>
<rect x="1167" y="335" width="2" height="1" fill="#000"/>
<rect x="1167" y="368" width="2" height="1" fill="#000"/>
<rect x="1167" y="401" width="2" height="1" fill="#000"/>
<rect x="1167" y="436" width="2" height="1" fill="#000"/>
<rect x="1167" y="408" width="2" height="1" fill="#000"/>
<rect x="1167" y="499" width="2" height="1" fill="#000"/>
<rect x="1167" y="527" width="2" height="1" fill="#000"/>
<rect x="4" y="549" width="1" height="4" fill="#000"/>
<rect x="68" y="549" width="1" height="4" fill="#000"/>
<rect x="132" y="549" width="1" height="4" fill="#000"/>
<rect x="196" y="549" width="1" height="4" fill="#000"/>
<rect x="260" y="549" width="1" height="4" fill="#000"/>
<rect x="324" y="549" width="1" height="4" fill="#000"/>
<rect x="388" y="549" width="1" height="4" fill="#000"/>
<rect x="452" y="549" width="1" height="4" fill="#000"/>
<rect x="516" y="549" width="1" height="4" fill="#000"/>
<rect x="580" y="549" width="1" height="4" fill="#000"/>
<rect x="644" y="549" width="1" height="4" fill="#000"/>
<rect x="708" y="549" width="1" height="4" fill="#000"/>
<rect x="772" y="549" width="1" height="4" fill="#000"/>
<rect x="836" y="549" width="1" height="4" fill="#000"/>
<rect x="900" y="549" width="1" height="4" fill="#000"/>
</g>
<text x="1172" y="41.8" transform="rotate(0.03 1172 41.8)" font-size="10" fill="#000" textLength="32.8" lengthAdjust="spacingAndGlyphs">6.57340</text>
<text x="1172" y="74.8" transform="rotate(0.03 1172 74.8)" font-size="10" fill="#000" textLength="32.8" lengthAdjust="spacingAndGlyphs">6.54890</text>
<text x="1172" y="107.8" transform="rotate(0.03 1172 107.8)" font-size="10" fill="#000" textLength="32.8" lengthAdjust="spacingAndGlyphs">6.52370</text>
<text x="1172" y="140.8" transform="rotate(0.03 1172 140.8)" font-size="10" fill="#000" textLength="32.8" lengthAdjust="spacingAndGlyphs">6.49920</text>
<text x="1172" y="173.8" transform="rotate(0.03 1172 173.8)" font-size="10" fill="#000" textLength="32.8" lengthAdjust="spacingAndGlyphs">6.47400</text>
<text x="1172" y="206.8" transform="rotate(0.03 1172 206.8)" font-size="10" fill="#000" textLength="32.8" lengthAdjust="spacingAndGlyphs">6.44950</text>
<text x="1172" y="239.8" transform="rotate(0.03 1172 239.8)" font-size="10" fill="#000" textLength="32.8" lengthAdjust="spacingAndGlyphs">6.42430</text>
<text x="1172" y="272.8" transform="rotate(0.03 1172 272.8)" font-size="10" fill="#000" textLength="32.8" lengthAdjust="spacingAndGlyphs">6.39980</text>
<text x="1172" y="305.8" transform="rotate(0.03 1172 305.8)" font-size="10" fill="#000" textLength="32.8" lengthAdjust="spacingAndGlyphs">6.37460</text>
<text x="1172" y="338.8" transform="rotate(0.03 1172 338.8)" font-size="10" fill="#000" textLength="32.8" lengthAdjust="spacingAndGlyphs">6.35010</text>
<text x="1172" y="371.8" transform="rotate(0.03 1172 371.8)" font-size="10" fill="#000" textLength="32.8" lengthAdjust="spacingAndGlyphs">6.32490</text>
<text x="1172" y="404.8" transform="rotate(0.03 1172 404.8)" font-size="10" fill="#000" textLength="32.8" lengthAdjust="spacingAndGlyphs">6.30040</text>
<text x="1170.5" y="417" transform="rotate(0.03 1170.5 417)" font-size="10" fill="#000" textLength="37" lengthAdjust="spacingAndGlyphs">0.023365</text>
<text x="1170.5" y="440.2" transform="rotate(0.03 1170.5 440.2)" font-size="10" fill="#000" textLength="17.8" lengthAdjust="spacingAndGlyphs">0.00</text>
<text x="1170.5" y="472" transform="rotate(0.03 1170.5 472)" font-size="10" fill="#000" textLength="35.5" lengthAdjust="spacingAndGlyphs">-0.03174</text>
<text x="1170.5" y="488.2" transform="rotate(0.03 1170.5 488.2)" font-size="10" fill="#000" textLength="15.3" lengthAdjust="spacingAndGlyphs">100</text>
<text x="1170.5" y="502.6" transform="rotate(0.03 1170.5 502.6)" font-size="10" fill="#000" textLength="10.2" lengthAdjust="spacingAndGlyphs">70</text>
<text x="1170.5" y="530.9" transform="rotate(0.03 1170.5 530.9)" font-size="10" fill="#000" textLength="10.2" lengthAdjust="spacingAndGlyphs">30</text>
<text x="1170.5" y="546" transform="rotate(0.03 1170.5 546)" font-size="10" fill="#000" textLength="5.1" lengthAdjust="spacingAndGlyphs">0</text>
<rect x="1168" y="102" width="37" height="11" fill="#ff0000" shape-rendering="crispEdges"/>
<text x="1172" y="110.9" transform="rotate(0.03 1172 110.9)" font-size="10" fill="#fff" textLength="32.8" lengthAdjust="spacingAndGlyphs">6.52126</text>
<rect x="1168" y="190" width="37" height="11" fill="#ff0000" shape-rendering="crispEdges"/>
<text x="1172" y="198.9" transform="rotate(0.03 1172 198.9)" font-size="10" fill="#fff" textLength="32.8" lengthAdjust="spacingAndGlyphs">6.45500</text>
<rect x="1168" y="248" width="37" height="11" fill="#ff0000" shape-rendering="crispEdges"/>
<text x="1172" y="256.9" transform="rotate(0.03 1172 256.9)" font-size="10" fill="#fff" textLength="32.8" lengthAdjust="spacingAndGlyphs">6.41065</text>
<rect x="1168" y="309" width="37" height="11" fill="#00ff00" shape-rendering="crispEdges"/>
<text x="1172" y="317.9" transform="rotate(0.03 1172 317.9)" font-size="10" fill="#fff" textLength="32.8" lengthAdjust="spacingAndGlyphs">6.36476</text>
<rect x="1168" y="368" width="37" height="11" fill="#0000ff" shape-rendering="crispEdges"/>
<text x="1172" y="376.9" transform="rotate(0.03 1172 376.9)" font-size="10" fill="#fff" textLength="32.8" lengthAdjust="spacingAndGlyphs">6.32041</text>
<rect x="1168" y="383" width="37" height="11" fill="#000000" shape-rendering="crispEdges"/>
<text x="1172" y="391.9" transform="rotate(0.03 1172 391.9)" font-size="10" fill="#fff" textLength="32.8" lengthAdjust="spacingAndGlyphs">6.31003</text>
<path d="M7 36.2 L14 36.2 L10.5 32.4 Z" fill="#000"/>
<text x="19.2" y="36.6" transform="rotate(0.03 19.2 36.6)" font-size="10" fill="#000" textLength="68.5" lengthAdjust="spacingAndGlyphs">USDCNH-,Daily</text>
<text x="93.8" y="36.6" transform="rotate(0.03 93.8 36.6)" font-size="10" fill="#000" textLength="141.2" lengthAdjust="spacingAndGlyphs">6.32163 6.32268 6.30760 6.31003</text>
<text x="8.3" y="418.8" transform="rotate(0.03 8.3 418.8)" font-size="10" fill="#000" textLength="153.7" lengthAdjust="spacingAndGlyphs">MACD(12,26,9) -0.012174 -0.007910</text>
<text x="8.3" y="489.8" transform="rotate(0.03 8.3 489.8)" font-size="10" fill="#000" textLength="67.7" lengthAdjust="spacingAndGlyphs">RSI(14) 32.4928</text>
<text x="3.4" y="562" transform="rotate(0.03 3.4 562)" font-size="10" fill="#000" textLength="45" lengthAdjust="spacingAndGlyphs">9 Apr 2021</text>
<text x="67.4" y="562" transform="rotate(0.03 67.4 562)" font-size="10" fill="#000" textLength="48.6" lengthAdjust="spacingAndGlyphs">3 May 2021</text>
<text x="131.4" y="562" transform="rotate(0.03 131.4 562)" font-size="10" fill="#000" textLength="53.8" lengthAdjust="spacingAndGlyphs">25 May 2021</text>
<text x="195.4" y="562" transform="rotate(0.03 195.4 562)" font-size="10" fill="#000" textLength="51.2" lengthAdjust="spacingAndGlyphs">16 Jun 2021</text>
<text x="259.4" y="562" transform="rotate(0.03 259.4 562)" font-size="10" fill="#000" textLength="42.9" lengthAdjust="spacingAndGlyphs">8 Jul 2021</text>
<text x="323.4" y="562" transform="rotate(0.03 323.4 562)" font-size="10" fill="#000" textLength="48.1" lengthAdjust="spacingAndGlyphs">30 Jul 2021</text>
<text x="387.4" y="562" transform="rotate(0.03 387.4 562)" font-size="10" fill="#000" textLength="52.2" lengthAdjust="spacingAndGlyphs">23 Aug 2021</text>
<text x="451.4" y="562" transform="rotate(0.03 451.4 562)" font-size="10" fill="#000" textLength="52.7" lengthAdjust="spacingAndGlyphs">14 Sep 2021</text>
<text x="515.4" y="562" transform="rotate(0.03 515.4 562)" font-size="10" fill="#000" textLength="45.5" lengthAdjust="spacingAndGlyphs">6 Oct 2021</text>
<text x="579.4" y="562" transform="rotate(0.03 579.4 562)" font-size="10" fill="#000" textLength="50.7" lengthAdjust="spacingAndGlyphs">28 Oct 2021</text>
<text x="643.4" y="562" transform="rotate(0.03 643.4 562)" font-size="10" fill="#000" textLength="52.7" lengthAdjust="spacingAndGlyphs">19 Nov 2021</text>
<text x="707.4" y="562" transform="rotate(0.03 707.4 562)" font-size="10" fill="#000" textLength="52.7" lengthAdjust="spacingAndGlyphs">13 Dec 2021</text>
<text x="771.4" y="562" transform="rotate(0.03 771.4 562)" font-size="10" fill="#000" textLength="46" lengthAdjust="spacingAndGlyphs">4 Jan 2022</text>
<text x="835.4" y="562" transform="rotate(0.03 835.4 562)" font-size="10" fill="#000" textLength="51.2" lengthAdjust="spacingAndGlyphs">26 Jan 2022</text>
<text x="899.4" y="562" transform="rotate(0.03 899.4 562)" font-size="10" fill="#000" textLength="52.2" lengthAdjust="spacingAndGlyphs">17 Feb 2022</text>
<rect x="0" y="570" width="1205" height="1" fill="#f4f4f4"/>
<rect x="0" y="571" width="1205" height="1" fill="#dcdcdc"/>
<rect x="0" y="572" width="1205" height="1" fill="#000"/>
<rect x="0" y="573" width="1205" height="18" fill="#f0f0f0"/>
<rect x="0" y="591" width="1205" height="1" fill="#fbfbfb"/>
<rect x="0" y="592" width="1205" height="3" fill="#f0f0f0"/>
<rect x="0" y="573" width="1" height="18" fill="#555"/>
<rect x="537" y="570" width="113" height="20" fill="#fff"/>
<path d="M537.5 572 V589.6 H649.5 V572" fill="none" stroke="#000" stroke-width="1.2"/>
<text x="16.6" y="586.8" transform="rotate(0.03 16.6 586.8)" font-size="12.2" fill="#7a7a7a" textLength="77.2" lengthAdjust="spacingAndGlyphs">USDX,Weekly</text>
<text x="116.2" y="586.8" transform="rotate(0.03 116.2 586.8)" font-size="12.2" fill="#7a7a7a" textLength="86" lengthAdjust="spacingAndGlyphs">EURUSD-,Daily</text>
<text x="223.3" y="586.8" transform="rotate(0.03 223.3 586.8)" font-size="12.2" fill="#7a7a7a" textLength="86.8" lengthAdjust="spacingAndGlyphs">AUDUSD-,Daily</text>
<text x="333.5" y="586.8" transform="rotate(0.03 333.5 586.8)" font-size="12.2" fill="#7a7a7a" textLength="82.8" lengthAdjust="spacingAndGlyphs">USDCHF-,Daily</text>
<text x="440.2" y="586.8" transform="rotate(0.03 440.2 586.8)" font-size="12.2" fill="#7a7a7a" textLength="85.5" lengthAdjust="spacingAndGlyphs">USDCAD-,Daily</text>
<text x="660" y="586.8" transform="rotate(0.03 660 586.8)" font-size="12.2" fill="#7a7a7a" textLength="72.8" lengthAdjust="spacingAndGlyphs">XAUUSD-,H1</text>
<text x="756.2" y="586.8" transform="rotate(0.03 756.2 586.8)" font-size="12.2" fill="#7a7a7a" textLength="69" lengthAdjust="spacingAndGlyphs">UKOil-,Daily</text>
<text x="849.5" y="586.8" transform="rotate(0.03 849.5 586.8)" font-size="12.2" fill="#7a7a7a" textLength="63.8" lengthAdjust="spacingAndGlyphs">DJ30-,Daily</text>
<text x="936.3" y="586.8" transform="rotate(0.03 936.3 586.8)" font-size="12.2" fill="#7a7a7a" textLength="61.7" lengthAdjust="spacingAndGlyphs">UK100-,H1</text>
<text x="549.6" y="586.8" transform="rotate(0.03 549.6 586.8)" font-size="12.2" fill="#000" textLength="87" lengthAdjust="spacingAndGlyphs">USDCNH-,Daily</text>
<rect x="104.9" y="575" width="1" height="14" fill="#7a7a7a"/>
<rect x="212.7" y="575" width="1" height="14" fill="#7a7a7a"/>
<rect x="321" y="575" width="1" height="14" fill="#7a7a7a"/>
<rect x="429.1" y="575" width="1" height="14" fill="#7a7a7a"/>
<rect x="745" y="575" width="1" height="14" fill="#7a7a7a"/>
<rect x="837" y="575" width="1" height="14" fill="#7a7a7a"/>
<rect x="924.8" y="575" width="1" height="14" fill="#7a7a7a"/>
<rect x="1009.5" y="575" width="1" height="14" fill="#7a7a7a"/>
<path d="M1186 578.5 L1182 581.5 L1186 584.5 Z" fill="#8a8a8a"/>
<path d="M1199.5 578.5 L1203.5 581.5 L1199.5 584.5 Z" fill="#8a8a8a"/>
<rect x="7" y="45" width="52" height="25" fill="url(#gTop)"/>
<rect x="174.5" y="45" width="51.5" height="25" fill="url(#gTop)"/>
<rect x="7" y="69.3" width="109" height="32.5" fill="url(#gBot)"/>
<rect x="118" y="69.3" width="108" height="32.5" fill="url(#gBot)"/>
<path d="M7.5 101.5 V45.5 H58.5 V69" fill="none" stroke="#c81414" stroke-width="1"/>
<path d="M225.5 101.5 V45.5 H175 V69" fill="none" stroke="#c81414" stroke-width="1"/>
<rect x="7" y="101" width="109" height="1" fill="#9c0000"/>
<rect x="118" y="101" width="108" height="1" fill="#9c0000"/>
<rect x="11" y="68.6" width="44" height="1" fill="#a00c0c"/>
<rect x="178" y="68.6" width="44" height="1" fill="#a00c0c"/>
<rect x="61" y="45" width="111.5" height="21.6" fill="#fff"/>
<rect x="61.5" y="45.5" width="110" height="20.8" fill="#fff" stroke="#abadb3" stroke-width="1"/>
<rect x="62.5" y="46.5" width="19" height="19" fill="url(#gBtn)"/>
<rect x="151.5" y="46.5" width="19.5" height="19" fill="url(#gBtn)"/>
<rect x="81.7" y="46" width="1" height="20" fill="#b5b5b5"/>
<rect x="150.5" y="46" width="1" height="20" fill="#b5b5b5"/>
<path d="M69 54.6 H74.4 L71.7 57.6 Z" fill="#4a5fc0"/>
<path d="M158.5 57.4 H164 L161.2 54.4 Z" fill="#4a5fc0"/>
<text x="146" y="59.7" transform="rotate(0.03 146 59.7)" font-size="12" fill="#101020" text-anchor="end" textLength="22.7" lengthAdjust="spacingAndGlyphs">3.00</text>
<text x="19.4" y="60.8" transform="rotate(0.03 19.4 60.8)" font-size="12.2" fill="#fff" textLength="25.9" lengthAdjust="spacingAndGlyphs">SELL</text>
<text x="187.4" y="60.8" transform="rotate(0.03 187.4 60.8)" font-size="12.2" fill="#fff" textLength="23.3" lengthAdjust="spacingAndGlyphs">BUY</text>
<text x="27.1" y="96.8" transform="rotate(0.03 27.1 96.8)" font-size="10.5" fill="#fff" font-weight="bold" textLength="23.7" lengthAdjust="spacingAndGlyphs">6.31</text>
<text x="137.1" y="96.8" transform="rotate(0.03 137.1 96.8)" font-size="10.5" fill="#fff" font-weight="bold" textLength="23.7" lengthAdjust="spacingAndGlyphs">6.31</text>
<text x="55.1" y="97" transform="rotate(0.03 55.1 97)" font-size="34.5" fill="#fff" textLength="34.2" lengthAdjust="spacingAndGlyphs" stroke="url(#gBot)" stroke-width="0.45">00</text>
<text x="165.6" y="97" transform="rotate(0.03 165.6 97)" font-size="34.5" fill="#fff" textLength="35.2" lengthAdjust="spacingAndGlyphs" stroke="url(#gBot)" stroke-width="0.45">21</text>
<text x="95" y="81" transform="rotate(0.03 95 81)" font-size="11" fill="#fff" font-weight="bold" textLength="5.4" lengthAdjust="spacingAndGlyphs">3</text>
<text x="205" y="81" transform="rotate(0.03 205 81)" font-size="11" fill="#fff" font-weight="bold" textLength="7" lengthAdjust="spacingAndGlyphs">4</text>
</svg></body></html>
